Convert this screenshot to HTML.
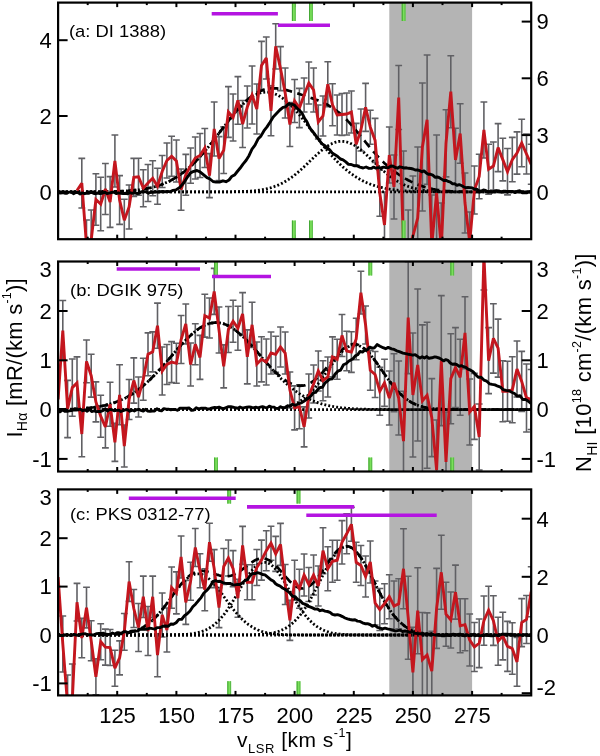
<!DOCTYPE html><html><head><meta charset="utf-8"><style>html,body{margin:0;padding:0;background:#fff;}svg{display:block;will-change:transform;}text{font-family:"Liberation Sans",sans-serif;fill:#000;}</style></head><body>
<svg width="600" height="756" viewBox="0 0 600 756">
<defs>
<clipPath id="cpa"><rect x="58.1" y="2.6" width="473.1" height="236.6"/></clipPath>
<clipPath id="cpb"><rect x="58.1" y="261.5" width="473.1" height="210.0"/></clipPath>
<clipPath id="cpc"><rect x="58.1" y="489.4" width="473.1" height="206.0"/></clipPath>
</defs>
<rect x="389.3" y="2.6" width="82.8" height="236.6" fill="#b4b4b4"/>
<g clip-path="url(#cpa)">
<path d="M81.8 158.4V208.0M78.4 158.4h6.8M78.4 208.0h6.8M86.5 220.0V270.0M83.1 220.0h6.8M83.1 270.0h6.8M91.2 210.0V270.0M87.8 210.0h6.8M87.8 270.0h6.8M95.9 173.7V225.3M92.5 173.7h6.8M92.5 225.3h6.8M100.7 177.3V230.7M97.3 177.3h6.8M97.3 230.7h6.8M105.4 163.5V214.5M102.0 163.5h6.8M102.0 214.5h6.8M110.1 176.6V227.4M106.7 176.6h6.8M106.7 227.4h6.8M114.9 135.0V187.0M111.5 135.0h6.8M111.5 187.0h6.8M119.6 175.6V224.4M116.2 175.6h6.8M116.2 224.4h6.8M124.3 199.2V241.2M120.9 199.2h6.8M120.9 241.2h6.8M129.1 185.0V229.0M125.7 185.0h6.8M125.7 229.0h6.8M133.8 158.4V196.4M130.4 158.4h6.8M130.4 196.4h6.8M138.5 158.3V195.3M135.1 158.3h6.8M135.1 195.3h6.8M143.3 169.7V206.7M139.9 169.7h6.8M139.9 206.7h6.8M148.0 164.5V201.5M144.6 164.5h6.8M144.6 201.5h6.8M152.7 160.8V195.8M149.3 160.8h6.8M149.3 195.8h6.8M157.5 168.2V204.2M154.1 168.2h6.8M154.1 204.2h6.8M162.2 155.5V187.5M158.8 155.5h6.8M158.8 187.5h6.8M166.9 143.0V178.0M163.5 143.0h6.8M163.5 178.0h6.8M171.6 136.3V176.3M168.2 136.3h6.8M168.2 176.3h6.8M176.4 140.0V182.0M173.0 140.0h6.8M173.0 182.0h6.8M181.1 169.0V210.2M177.7 169.0h6.8M177.7 210.2h6.8M185.8 154.4V195.2M182.4 154.4h6.8M182.4 195.2h6.8M190.6 148.0V183.2M187.2 148.0h6.8M187.2 183.2h6.8M195.3 137.0V179.0M191.9 137.0h6.8M191.9 179.0h6.8M200.0 133.5V177.5M196.6 133.5h6.8M196.6 177.5h6.8M204.8 128.5V167.5M201.4 128.5h6.8M201.4 167.5h6.8M209.5 153.6V197.6M206.1 153.6h6.8M206.1 197.6h6.8M214.2 102.0V156.0M210.8 102.0h6.8M210.8 156.0h6.8M219.0 136.6V180.6M215.6 136.6h6.8M215.6 180.6h6.8M223.7 126.9V173.5M220.3 126.9h6.8M220.3 173.5h6.8M228.4 86.6V137.4M225.0 86.6h6.8M225.0 137.4h6.8M233.1 94.0V141.0M229.7 94.0h6.8M229.7 141.0h6.8M237.9 76.6V124.2M234.5 76.6h6.8M234.5 124.2h6.8M242.6 100.5V147.5M239.2 100.5h6.8M239.2 147.5h6.8M247.3 86.0V128.0M243.9 86.0h6.8M243.9 128.0h6.8M252.1 66.0V124.0M248.7 66.0h6.8M248.7 124.0h6.8M256.8 84.0V134.0M253.4 84.0h6.8M253.4 134.0h6.8M261.5 41.4V89.4M258.1 41.4h6.8M258.1 89.4h6.8M266.3 37.0V79.0M262.9 37.0h6.8M262.9 79.0h6.8M271.0 85.8V135.8M267.6 85.8h6.8M267.6 135.8h6.8M275.7 23.8V69.0M272.3 23.8h6.8M272.3 69.0h6.8M280.5 46.6V90.6M277.1 46.6h6.8M277.1 90.6h6.8M285.2 68.0V118.0M281.8 68.0h6.8M281.8 118.0h6.8M289.9 102.5V146.5M286.5 102.5h6.8M286.5 146.5h6.8M294.6 79.5V122.5M291.2 79.5h6.8M291.2 122.5h6.8M299.4 88.4V127.6M296.0 88.4h6.8M296.0 127.6h6.8M304.1 78.0V112.0M300.7 78.0h6.8M300.7 112.0h6.8M308.8 62.0V104.0M305.4 62.0h6.8M305.4 104.0h6.8M313.6 68.0V112.0M310.2 68.0h6.8M310.2 112.0h6.8M318.3 105.0V139.0M314.9 105.0h6.8M314.9 139.0h6.8M323.0 96.0V136.0M319.6 96.0h6.8M319.6 136.0h6.8M327.8 61.7V106.7M324.4 61.7h6.8M324.4 106.7h6.8M332.5 83.8V125.8M329.1 83.8h6.8M329.1 125.8h6.8M337.2 95.0V135.0M333.8 95.0h6.8M333.8 135.0h6.8M342.0 93.5V135.5M338.6 93.5h6.8M338.6 135.5h6.8M346.7 93.0V135.0M343.3 93.0h6.8M343.3 135.0h6.8M351.4 91.0V133.0M348.0 91.0h6.8M348.0 133.0h6.8M356.2 123.4V165.4M352.8 123.4h6.8M352.8 165.4h6.8M360.9 109.0V151.0M357.5 109.0h6.8M357.5 151.0h6.8M365.6 83.4V131.4M362.2 83.4h6.8M362.2 131.4h6.8M370.3 110.2V144.2M366.9 110.2h6.8M366.9 144.2h6.8M375.1 118.4V162.4M371.7 118.4h6.8M371.7 162.4h6.8M379.8 170.3V216.3M376.4 170.3h6.8M376.4 216.3h6.8M384.5 192.0V258.0M381.1 192.0h6.8M381.1 258.0h6.8M389.3 127.0V183.0M385.9 127.0h6.8M385.9 183.0h6.8M394.0 155.0V219.0M390.6 155.0h6.8M390.6 219.0h6.8M398.7 65.5V129.5M395.3 65.5h6.8M395.3 129.5h6.8M403.5 151.0V339.0M400.1 151.0h6.8M400.1 339.0h6.8M408.2 210.0V290.0M404.8 210.0h6.8M404.8 290.0h6.8M412.9 176.0V296.0M409.5 176.0h6.8M409.5 296.0h6.8M417.7 147.0V289.0M414.3 147.0h6.8M414.3 289.0h6.8M422.4 83.0V211.0M419.0 83.0h6.8M419.0 211.0h6.8M427.1 55.0V184.4M423.7 55.0h6.8M423.7 184.4h6.8M431.8 195.0V295.0M428.4 195.0h6.8M428.4 295.0h6.8M436.6 135.0V251.0M433.2 135.0h6.8M433.2 251.0h6.8M441.3 203.0V293.0M437.9 203.0h6.8M437.9 293.0h6.8M446.0 109.7V176.9M442.6 109.7h6.8M442.6 176.9h6.8M450.8 55.7V127.7M447.4 55.7h6.8M447.4 127.7h6.8M455.5 128.3V191.7M452.1 128.3h6.8M452.1 191.7h6.8M460.2 103.7V163.3M456.8 103.7h6.8M456.8 163.3h6.8M465.0 173.0V233.0M461.6 173.0h6.8M461.6 233.0h6.8M469.7 212.0V272.0M466.3 212.0h6.8M466.3 272.0h6.8M474.4 166.0V214.0M471.0 166.0h6.8M471.0 214.0h6.8M479.2 154.2V198.8M475.8 154.2h6.8M475.8 198.8h6.8M483.9 102.0V158.0M480.5 102.0h6.8M480.5 158.0h6.8M488.6 144.3V194.3M485.2 144.3h6.8M485.2 194.3h6.8M493.4 142.0V190.0M490.0 142.0h6.8M490.0 190.0h6.8M498.1 123.6V171.6M494.7 123.6h6.8M494.7 171.6h6.8M502.8 138.3V180.9M499.4 138.3h6.8M499.4 180.9h6.8M507.5 148.5V194.9M504.1 148.5h6.8M504.1 194.9h6.8M512.3 137.4V181.8M508.9 137.4h6.8M508.9 181.8h6.8M517.0 131.9V174.1M513.6 131.9h6.8M513.6 174.1h6.8M521.7 119.3V166.7M518.3 119.3h6.8M518.3 166.7h6.8M526.5 134.0V174.0M523.1 134.0h6.8M523.1 174.0h6.8M531.2 144.3V184.3M527.8 144.3h6.8M527.8 184.3h6.8" stroke="#606064" stroke-width="1.6" fill="none"/>
<line x1="58.1" y1="191.9" x2="531.2" y2="191.9" stroke="#000" stroke-width="2.8" stroke-dasharray="1.9 2.1"/>
<polyline points="58.1,191.9 59.3,191.9 60.5,191.9 61.6,191.9 62.8,191.9 64.0,191.9 65.2,191.9 66.4,191.9 67.6,191.9 68.7,191.9 69.9,191.9 71.1,191.9 72.3,191.9 73.5,191.9 74.7,191.9 75.8,191.9 77.0,191.9 78.2,191.9 79.4,191.9 80.6,191.9 81.8,191.9 82.9,191.9 84.1,191.9 85.3,191.9 86.5,191.9 87.7,191.8 88.9,191.8 90.0,191.8 91.2,191.8 92.4,191.8 93.6,191.8 94.8,191.8 95.9,191.8 97.1,191.8 98.3,191.8 99.5,191.8 100.7,191.7 101.9,191.7 103.0,191.7 104.2,191.7 105.4,191.7 106.6,191.7 107.8,191.6 109.0,191.6 110.1,191.6 111.3,191.6 112.5,191.5 113.7,191.5 114.9,191.5 116.1,191.4 117.2,191.4 118.4,191.3 119.6,191.3 120.8,191.2 122.0,191.2 123.2,191.1 124.3,191.1 125.5,191.0 126.7,190.9 127.9,190.8 129.1,190.7 130.2,190.7 131.4,190.6 132.6,190.5 133.8,190.3 135.0,190.2 136.2,190.1 137.3,190.0 138.5,189.8 139.7,189.7 140.9,189.5 142.1,189.3 143.3,189.1 144.4,188.9 145.6,188.7 146.8,188.5 148.0,188.3 149.2,188.0 150.4,187.8 151.5,187.5 152.7,187.2 153.9,186.9 155.1,186.6 156.3,186.2 157.5,185.9 158.6,185.5 159.8,185.1 161.0,184.7 162.2,184.3 163.4,183.8 164.5,183.3 165.7,182.8 166.9,182.3 168.1,181.7 169.3,181.2 170.5,180.6 171.6,180.0 172.8,179.3 174.0,178.6 175.2,177.9 176.4,177.2 177.6,176.5 178.7,175.7 179.9,174.9 181.1,174.0 182.3,173.2 183.5,172.3 184.7,171.3 185.8,170.4 187.0,169.4 188.2,168.4 189.4,167.4 190.6,166.3 191.8,165.2 192.9,164.0 194.1,162.9 195.3,161.7 196.5,160.5 197.7,159.2 198.8,158.0 200.0,156.7 201.2,155.4 202.4,154.0 203.6,152.6 204.8,151.3 205.9,149.8 207.1,148.4 208.3,147.0 209.5,145.5 210.7,144.0 211.9,142.5 213.0,141.0 214.2,139.5 215.4,137.9 216.6,136.4 217.8,134.8 219.0,133.3 220.1,131.7 221.3,130.2 222.5,128.6 223.7,127.1 224.9,125.5 226.1,124.0 227.2,122.5 228.4,120.9 229.6,119.4 230.8,118.0 232.0,116.5 233.1,115.1 234.3,113.6 235.5,112.2 236.7,110.9 237.9,109.6 239.1,108.3 240.2,107.0 241.4,105.8 242.6,104.6 243.8,103.5 245.0,102.4 246.2,101.3 247.3,100.3 248.5,99.4 249.7,98.5 250.9,97.6 252.1,96.8 253.3,96.1 254.4,95.4 255.6,94.8 256.8,94.3 258.0,93.8 259.2,93.3 260.4,93.0 261.5,92.7 262.7,92.4 263.9,92.3 265.1,92.2 266.3,92.1 267.4,92.2 268.6,92.2 269.8,92.4 271.0,92.6 272.2,92.9 273.4,93.3 274.5,93.7 275.7,94.2 276.9,94.7 278.1,95.3 279.3,96.0 280.5,96.7 281.6,97.5 282.8,98.3 284.0,99.2 285.2,100.2 286.4,101.1 287.6,102.2 288.7,103.3 289.9,104.4 291.1,105.6 292.3,106.8 293.5,108.1 294.6,109.3 295.8,110.7 297.0,112.0 298.2,113.4 299.4,114.8 300.6,116.3 301.7,117.7 302.9,119.2 304.1,120.7 305.3,122.2 306.5,123.7 307.7,125.3 308.8,126.8 310.0,128.4 311.2,129.9 312.4,131.5 313.6,133.0 314.8,134.6 315.9,136.1 317.1,137.7 318.3,139.2 319.5,140.7 320.7,142.3 321.9,143.8 323.0,145.3 324.2,146.7 325.4,148.2 326.6,149.6 327.8,151.0 328.9,152.4 330.1,153.8 331.3,155.1 332.5,156.5 333.7,157.8 334.9,159.0 336.0,160.3 337.2,161.5 338.4,162.7 339.6,163.9 340.8,165.0 342.0,166.1 343.1,167.2 344.3,168.2 345.5,169.3 346.7,170.2 347.9,171.2 349.1,172.1 350.2,173.0 351.4,173.9 352.6,174.7 353.8,175.6 355.0,176.3 356.2,177.1 357.3,177.8 358.5,178.5 359.7,179.2 360.9,179.9 362.1,180.5 363.2,181.1 364.4,181.7 365.6,182.2 366.8,182.7 368.0,183.2 369.2,183.7 370.3,184.2 371.5,184.6 372.7,185.0 373.9,185.4 375.1,185.8 376.3,186.2 377.4,186.5 378.6,186.8 379.8,187.2 381.0,187.5 382.2,187.7 383.4,188.0 384.5,188.2 385.7,188.5 386.9,188.7 388.1,188.9 389.3,189.1 390.5,189.3 391.6,189.5 392.8,189.6 394.0,189.8 395.2,189.9 396.4,190.1 397.5,190.2 398.7,190.3 399.9,190.4 401.1,190.5 402.3,190.6 403.5,190.7 404.6,190.8 405.8,190.9 407.0,191.0 408.2,191.0 409.4,191.1 410.6,191.2 411.7,191.2 412.9,191.3 414.1,191.3 415.3,191.4 416.5,191.4 417.7,191.5 418.8,191.5 420.0,191.5 421.2,191.6 422.4,191.6 423.6,191.6 424.8,191.6 425.9,191.7 427.1,191.7 428.3,191.7 429.5,191.7 430.7,191.7 431.8,191.7 433.0,191.8 434.2,191.8 435.4,191.8 436.6,191.8 437.8,191.8 438.9,191.8 440.1,191.8 441.3,191.8 442.5,191.8 443.7,191.8 444.9,191.8 446.0,191.9 447.2,191.9 448.4,191.9 449.6,191.9 450.8,191.9 452.0,191.9 453.1,191.9 454.3,191.9 455.5,191.9 456.7,191.9 457.9,191.9 459.1,191.9 460.2,191.9 461.4,191.9 462.6,191.9 463.8,191.9 465.0,191.9 466.1,191.9 467.3,191.9 468.5,191.9 469.7,191.9 470.9,191.9 472.1,191.9 473.2,191.9 474.4,191.9 475.6,191.9 476.8,191.9 478.0,191.9 479.2,191.9 480.3,191.9 481.5,191.9 482.7,191.9 483.9,191.9 485.1,191.9 486.3,191.9 487.4,191.9 488.6,191.9 489.8,191.9 491.0,191.9 492.2,191.9 493.4,191.9 494.5,191.9 495.7,191.9 496.9,191.9 498.1,191.9 499.3,191.9 500.4,191.9 501.6,191.9 502.8,191.9 504.0,191.9 505.2,191.9 506.4,191.9 507.5,191.9 508.7,191.9 509.9,191.9 511.1,191.9 512.3,191.9 513.5,191.9 514.6,191.9 515.8,191.9 517.0,191.9 518.2,191.9 519.4,191.9 520.6,191.9 521.7,191.9 522.9,191.9 524.1,191.9 525.3,191.9 526.5,191.9 527.7,191.9 528.8,191.9 530.0,191.9 531.2,191.9" stroke="#000" stroke-width="2.8" fill="none" stroke-dasharray="1.9 2.1"/>
<polyline points="58.1,191.9 59.3,191.9 60.5,191.9 61.6,191.9 62.8,191.9 64.0,191.9 65.2,191.9 66.4,191.9 67.6,191.9 68.7,191.9 69.9,191.9 71.1,191.9 72.3,191.9 73.5,191.9 74.7,191.9 75.8,191.9 77.0,191.9 78.2,191.9 79.4,191.9 80.6,191.9 81.8,191.9 82.9,191.9 84.1,191.9 85.3,191.9 86.5,191.9 87.7,191.9 88.9,191.9 90.0,191.9 91.2,191.9 92.4,191.9 93.6,191.9 94.8,191.9 95.9,191.9 97.1,191.9 98.3,191.9 99.5,191.9 100.7,191.9 101.9,191.9 103.0,191.9 104.2,191.9 105.4,191.9 106.6,191.9 107.8,191.9 109.0,191.9 110.1,191.9 111.3,191.9 112.5,191.9 113.7,191.9 114.9,191.9 116.1,191.9 117.2,191.9 118.4,191.9 119.6,191.9 120.8,191.9 122.0,191.9 123.2,191.9 124.3,191.9 125.5,191.9 126.7,191.9 127.9,191.9 129.1,191.9 130.2,191.9 131.4,191.9 132.6,191.9 133.8,191.9 135.0,191.9 136.2,191.9 137.3,191.9 138.5,191.9 139.7,191.9 140.9,191.9 142.1,191.9 143.3,191.9 144.4,191.9 145.6,191.9 146.8,191.9 148.0,191.9 149.2,191.9 150.4,191.9 151.5,191.9 152.7,191.9 153.9,191.9 155.1,191.9 156.3,191.9 157.5,191.9 158.6,191.9 159.8,191.9 161.0,191.9 162.2,191.9 163.4,191.9 164.5,191.9 165.7,191.9 166.9,191.9 168.1,191.9 169.3,191.9 170.5,191.9 171.6,191.9 172.8,191.9 174.0,191.9 175.2,191.9 176.4,191.9 177.6,191.9 178.7,191.9 179.9,191.9 181.1,191.9 182.3,191.9 183.5,191.9 184.7,191.9 185.8,191.9 187.0,191.9 188.2,191.9 189.4,191.9 190.6,191.9 191.8,191.9 192.9,191.9 194.1,191.9 195.3,191.9 196.5,191.9 197.7,191.9 198.8,191.9 200.0,191.9 201.2,191.9 202.4,191.9 203.6,191.9 204.8,191.9 205.9,191.9 207.1,191.9 208.3,191.9 209.5,191.9 210.7,191.9 211.9,191.9 213.0,191.9 214.2,191.9 215.4,191.9 216.6,191.9 217.8,191.9 219.0,191.9 220.1,191.9 221.3,191.9 222.5,191.9 223.7,191.9 224.9,191.8 226.1,191.8 227.2,191.8 228.4,191.8 229.6,191.8 230.8,191.8 232.0,191.8 233.1,191.8 234.3,191.7 235.5,191.7 236.7,191.7 237.9,191.7 239.1,191.6 240.2,191.6 241.4,191.6 242.6,191.5 243.8,191.5 245.0,191.4 246.2,191.4 247.3,191.3 248.5,191.2 249.7,191.2 250.9,191.1 252.1,191.0 253.3,190.9 254.4,190.8 255.6,190.6 256.8,190.5 258.0,190.4 259.2,190.2 260.4,190.0 261.5,189.8 262.7,189.6 263.9,189.4 265.1,189.2 266.3,188.9 267.4,188.6 268.6,188.3 269.8,188.0 271.0,187.7 272.2,187.3 273.4,186.9 274.5,186.5 275.7,186.1 276.9,185.6 278.1,185.1 279.3,184.6 280.5,184.1 281.6,183.5 282.8,182.9 284.0,182.2 285.2,181.5 286.4,180.8 287.6,180.1 288.7,179.3 289.9,178.5 291.1,177.7 292.3,176.8 293.5,176.0 294.6,175.0 295.8,174.1 297.0,173.1 298.2,172.1 299.4,171.1 300.6,170.0 301.7,169.0 302.9,167.9 304.1,166.8 305.3,165.7 306.5,164.5 307.7,163.4 308.8,162.2 310.0,161.1 311.2,159.9 312.4,158.8 313.6,157.7 314.8,156.5 315.9,155.4 317.1,154.3 318.3,153.3 319.5,152.2 320.7,151.2 321.9,150.2 323.0,149.3 324.2,148.3 325.4,147.5 326.6,146.7 327.8,145.9 328.9,145.2 330.1,144.5 331.3,143.9 332.5,143.3 333.7,142.8 334.9,142.4 336.0,142.1 337.2,141.8 338.4,141.5 339.6,141.4 340.8,141.3 342.0,141.3 343.1,141.4 344.3,141.5 345.5,141.7 346.7,142.0 347.9,142.3 349.1,142.7 350.2,143.2 351.4,143.7 352.6,144.3 353.8,144.9 355.0,145.6 356.2,146.4 357.3,147.2 358.5,148.1 359.7,149.0 360.9,149.9 362.1,150.9 363.2,151.9 364.4,152.9 365.6,154.0 366.8,155.1 368.0,156.2 369.2,157.3 370.3,158.4 371.5,159.6 372.7,160.7 373.9,161.9 375.1,163.0 376.3,164.2 377.4,165.3 378.6,166.4 379.8,167.5 381.0,168.6 382.2,169.7 383.4,170.7 384.5,171.8 385.7,172.8 386.9,173.8 388.1,174.7 389.3,175.7 390.5,176.6 391.6,177.4 392.8,178.3 394.0,179.1 395.2,179.9 396.4,180.6 397.5,181.3 398.7,182.0 399.9,182.7 401.1,183.3 402.3,183.9 403.5,184.4 404.6,185.0 405.8,185.5 407.0,185.9 408.2,186.4 409.4,186.8 410.6,187.2 411.7,187.6 412.9,187.9 414.1,188.2 415.3,188.5 416.5,188.8 417.7,189.1 418.8,189.3 420.0,189.6 421.2,189.8 422.4,190.0 423.6,190.1 424.8,190.3 425.9,190.5 427.1,190.6 428.3,190.7 429.5,190.8 430.7,190.9 431.8,191.0 433.0,191.1 434.2,191.2 435.4,191.3 436.6,191.3 437.8,191.4 438.9,191.5 440.1,191.5 441.3,191.5 442.5,191.6 443.7,191.6 444.9,191.7 446.0,191.7 447.2,191.7 448.4,191.7 449.6,191.8 450.8,191.8 452.0,191.8 453.1,191.8 454.3,191.8 455.5,191.8 456.7,191.8 457.9,191.8 459.1,191.8 460.2,191.9 461.4,191.9 462.6,191.9 463.8,191.9 465.0,191.9 466.1,191.9 467.3,191.9 468.5,191.9 469.7,191.9 470.9,191.9 472.1,191.9 473.2,191.9 474.4,191.9 475.6,191.9 476.8,191.9 478.0,191.9 479.2,191.9 480.3,191.9 481.5,191.9 482.7,191.9 483.9,191.9 485.1,191.9 486.3,191.9 487.4,191.9 488.6,191.9 489.8,191.9 491.0,191.9 492.2,191.9 493.4,191.9 494.5,191.9 495.7,191.9 496.9,191.9 498.1,191.9 499.3,191.9 500.4,191.9 501.6,191.9 502.8,191.9 504.0,191.9 505.2,191.9 506.4,191.9 507.5,191.9 508.7,191.9 509.9,191.9 511.1,191.9 512.3,191.9 513.5,191.9 514.6,191.9 515.8,191.9 517.0,191.9 518.2,191.9 519.4,191.9 520.6,191.9 521.7,191.9 522.9,191.9 524.1,191.9 525.3,191.9 526.5,191.9 527.7,191.9 528.8,191.9 530.0,191.9 531.2,191.9" stroke="#000" stroke-width="2.8" fill="none" stroke-dasharray="1.9 2.1"/>
<polyline points="58.1,191.9 59.3,191.9 60.5,191.9 61.6,191.9 62.8,191.9 64.0,191.9 65.2,191.9 66.4,191.9 67.6,191.9 68.7,191.9 69.9,191.9 71.1,191.9 72.3,191.9 73.5,191.9 74.7,191.9 75.8,191.9 77.0,191.9 78.2,191.9 79.4,191.9 80.6,191.9 81.8,191.9 82.9,191.9 84.1,191.9 85.3,191.9 86.5,191.9 87.7,191.8 88.9,191.8 90.0,191.8 91.2,191.8 92.4,191.8 93.6,191.8 94.8,191.8 95.9,191.8 97.1,191.8 98.3,191.8 99.5,191.8 100.7,191.7 101.9,191.7 103.0,191.7 104.2,191.7 105.4,191.7 106.6,191.7 107.8,191.6 109.0,191.6 110.1,191.6 111.3,191.6 112.5,191.5 113.7,191.5 114.9,191.5 116.1,191.4 117.2,191.4 118.4,191.3 119.6,191.3 120.8,191.2 122.0,191.2 123.2,191.1 124.3,191.1 125.5,191.0 126.7,190.9 127.9,190.8 129.1,190.7 130.2,190.7 131.4,190.6 132.6,190.5 133.8,190.3 135.0,190.2 136.2,190.1 137.3,190.0 138.5,189.8 139.7,189.7 140.9,189.5 142.1,189.3 143.3,189.1 144.4,188.9 145.6,188.7 146.8,188.5 148.0,188.3 149.2,188.0 150.4,187.8 151.5,187.5 152.7,187.2 153.9,186.9 155.1,186.6 156.3,186.2 157.5,185.9 158.6,185.5 159.8,185.1 161.0,184.7 162.2,184.3 163.4,183.8 164.5,183.3 165.7,182.8 166.9,182.3 168.1,181.7 169.3,181.2 170.5,180.6 171.6,180.0 172.8,179.3 174.0,178.6 175.2,177.9 176.4,177.2 177.6,176.5 178.7,175.7 179.9,174.9 181.1,174.0 182.3,173.2 183.5,172.3 184.7,171.3 185.8,170.4 187.0,169.4 188.2,168.4 189.4,167.4 190.6,166.3 191.8,165.2 192.9,164.0 194.1,162.9 195.3,161.7 196.5,160.5 197.7,159.2 198.8,158.0 200.0,156.7 201.2,155.4 202.4,154.0 203.6,152.6 204.8,151.3 205.9,149.8 207.1,148.4 208.3,147.0 209.5,145.5 210.7,144.0 211.9,142.5 213.0,141.0 214.2,139.5 215.4,137.9 216.6,136.4 217.8,134.8 219.0,133.3 220.1,131.7 221.3,130.1 222.5,128.6 223.7,127.0 224.9,125.5 226.1,123.9 227.2,122.4 228.4,120.9 229.6,119.3 230.8,117.8 232.0,116.4 233.1,114.9 234.3,113.5 235.5,112.1 236.7,110.7 237.9,109.3 239.1,108.0 240.2,106.7 241.4,105.4 242.6,104.2 243.8,103.0 245.0,101.9 246.2,100.8 247.3,99.7 248.5,98.7 249.7,97.7 250.9,96.8 252.1,95.9 253.3,95.1 254.4,94.3 255.6,93.5 256.8,92.9 258.0,92.2 259.2,91.6 260.4,91.1 261.5,90.6 262.7,90.2 263.9,89.8 265.1,89.4 266.3,89.1 267.4,88.9 268.6,88.7 269.8,88.5 271.0,88.4 272.2,88.3 273.4,88.3 274.5,88.3 275.7,88.4 276.9,88.4 278.1,88.6 279.3,88.7 280.5,88.9 281.6,89.1 282.8,89.3 284.0,89.5 285.2,89.8 286.4,90.1 287.6,90.4 288.7,90.7 289.9,91.0 291.1,91.4 292.3,91.7 293.5,92.1 294.6,92.5 295.8,92.9 297.0,93.2 298.2,93.6 299.4,94.0 300.6,94.4 301.7,94.8 302.9,95.2 304.1,95.6 305.3,96.0 306.5,96.4 307.7,96.8 308.8,97.2 310.0,97.6 311.2,98.0 312.4,98.4 313.6,98.8 314.8,99.2 315.9,99.7 317.1,100.1 318.3,100.6 319.5,101.1 320.7,101.5 321.9,102.1 323.0,102.6 324.2,103.1 325.4,103.7 326.6,104.3 327.8,105.0 328.9,105.6 330.1,106.3 331.3,107.0 332.5,107.8 333.7,108.6 334.9,109.4 336.0,110.3 337.2,111.2 338.4,112.2 339.6,113.1 340.8,114.2 342.0,115.2 343.1,116.3 344.3,117.5 345.5,118.6 346.7,119.8 347.9,121.1 349.1,122.3 350.2,123.6 351.4,125.0 352.6,126.3 353.8,127.7 355.0,129.1 356.2,130.5 357.3,132.0 358.5,133.4 359.7,134.9 360.9,136.3 362.1,137.8 363.2,139.3 364.4,140.7 365.6,142.2 366.8,143.6 368.0,145.1 369.2,146.5 370.3,147.9 371.5,149.3 372.7,150.7 373.9,152.1 375.1,153.4 376.3,154.7 377.4,156.0 378.6,157.3 379.8,158.5 381.0,159.8 382.2,160.9 383.4,162.1 384.5,163.2 385.7,164.3 386.9,165.4 388.1,166.4 389.3,167.4 390.5,168.4 391.6,169.4 392.8,170.3 394.0,171.2 395.2,172.1 396.4,172.9 397.5,173.7 398.7,174.5 399.9,175.3 401.1,176.1 402.3,176.8 403.5,177.5 404.6,178.2 405.8,178.9 407.0,179.5 408.2,180.2 409.4,180.8 410.6,181.4 411.7,181.9 412.9,182.5 414.1,183.0 415.3,183.5 416.5,184.0 417.7,184.5 418.8,185.0 420.0,185.4 421.2,185.8 422.4,186.2 423.6,186.6 424.8,187.0 425.9,187.3 427.1,187.7 428.3,188.0 429.5,188.3 430.7,188.6 431.8,188.8 433.0,189.1 434.2,189.3 435.4,189.6 436.6,189.8 437.8,190.0 438.9,190.1 440.1,190.3 441.3,190.5 442.5,190.6 443.7,190.7 444.9,190.8 446.0,191.0 447.2,191.1 448.4,191.1 449.6,191.2 450.8,191.3 452.0,191.4 453.1,191.4 454.3,191.5 455.5,191.5 456.7,191.6 457.9,191.6 459.1,191.7 460.2,191.7 461.4,191.7 462.6,191.7 463.8,191.8 465.0,191.8 466.1,191.8 467.3,191.8 468.5,191.8 469.7,191.8 470.9,191.8 472.1,191.9 473.2,191.9 474.4,191.9 475.6,191.9 476.8,191.9 478.0,191.9 479.2,191.9 480.3,191.9 481.5,191.9 482.7,191.9 483.9,191.9 485.1,191.9 486.3,191.9 487.4,191.9 488.6,191.9 489.8,191.9 491.0,191.9 492.2,191.9 493.4,191.9 494.5,191.9 495.7,191.9 496.9,191.9 498.1,191.9 499.3,191.9 500.4,191.9 501.6,191.9 502.8,191.9 504.0,191.9 505.2,191.9 506.4,191.9 507.5,191.9 508.7,191.9 509.9,191.9 511.1,191.9 512.3,191.9 513.5,191.9 514.6,191.9 515.8,191.9 517.0,191.9 518.2,191.9 519.4,191.9 520.6,191.9 521.7,191.9 522.9,191.9 524.1,191.9 525.3,191.9 526.5,191.9 527.7,191.9 528.8,191.9 530.0,191.9 531.2,191.9" stroke="#000" stroke-width="2.7" fill="none" stroke-dasharray="8.5 5.5"/>
<polyline points="77.0,190.5 81.8,183.2 86.5,245.0 91.2,240.0 95.9,199.5 100.7,204.0 105.4,189.0 110.1,202.0 114.9,161.0 119.6,200.0 124.3,220.2 129.1,207.0 133.8,177.4 138.5,176.8 143.3,188.2 148.0,183.0 152.7,178.3 157.5,186.2 162.2,171.5 166.9,160.5 171.6,156.3 176.4,161.0 181.1,189.6 185.8,174.8 190.6,165.6 195.3,158.0 200.0,155.5 204.8,148.0 209.5,175.6 214.2,129.0 219.0,158.6 223.7,150.2 228.4,112.0 233.1,117.5 237.9,100.4 242.6,124.0 247.3,107.0 252.1,95.0 256.8,109.0 261.5,65.4 266.3,58.0 271.0,110.8 275.7,46.4 280.5,68.6 285.2,93.0 289.9,124.5 294.6,101.0 299.4,108.0 304.1,95.0 308.8,83.0 313.6,90.0 318.3,122.0 323.0,116.0 327.8,84.2 332.5,104.8 337.2,115.0 342.0,114.5 346.7,114.0 351.4,112.0 356.2,144.4 360.9,130.0 365.6,107.4 370.3,127.2 375.1,140.4 379.8,193.3 384.5,225.0 389.3,155.0 394.0,187.0 398.7,97.5 403.5,245.0 408.2,250.0 412.9,236.0 417.7,218.0 422.4,147.0 427.1,119.7 431.8,245.0 436.6,193.0 441.3,248.0 446.0,143.3 450.8,91.7 455.5,160.0 460.2,133.5 465.0,203.0 469.7,242.0 474.4,190.0 479.2,176.5 483.9,130.0 488.6,169.3 493.4,166.0 498.1,147.6 502.8,159.6 507.5,171.7 512.3,159.6 517.0,153.0 521.7,143.0 526.5,154.0 531.2,164.3" stroke="#c4161e" stroke-width="2.9" fill="none" stroke-linejoin="miter" stroke-miterlimit="3"/>
<polyline points="58.1,192.5 60.3,193.1 62.5,192.7 64.7,193.2 66.9,193.3 69.1,192.1 71.3,192.0 73.5,193.7 75.7,192.5 77.9,192.5 80.2,194.0 82.4,192.9 84.6,193.7 86.8,193.0 89.0,193.3 91.2,192.3 93.4,193.3 95.6,193.7 97.8,193.0 100.0,193.5 102.3,193.3 104.6,192.1 106.9,193.5 109.2,193.1 111.5,192.5 113.8,192.0 116.2,193.6 118.5,192.8 120.8,193.3 123.1,193.6 125.4,193.3 127.7,193.7 130.0,192.6 132.3,193.3 134.6,192.6 136.9,193.5 139.2,193.3 141.5,191.7 143.8,191.7 146.2,191.8 148.5,193.2 150.8,192.1 153.1,192.4 155.4,191.7 157.7,192.1 160.0,191.8 162.5,191.5 165.0,191.7 167.5,191.4 170.0,191.8 173.0,190.4 176.0,189.9 180.0,187.2 184.0,182.5 188.0,176.3 190.5,172.8 193.0,171.7 197.0,170.5 200.0,171.8 204.0,175.1 207.0,177.7 210.0,179.0 213.0,181.5 216.0,182.1 220.0,182.0 223.0,180.8 226.0,181.7 229.0,180.0 232.0,176.2 234.7,174.9 237.3,171.5 240.0,168.3 243.0,164.1 246.0,160.5 249.0,155.7 252.0,149.1 255.0,145.2 258.0,139.1 261.0,135.9 264.0,130.7 267.0,126.9 270.0,122.2 273.2,116.9 276.5,113.5 279.8,110.0 283.0,107.4 285.6,106.8 288.3,104.1 291.7,104.2 294.0,104.8 298.2,109.5 300.0,110.8 302.4,113.8 304.7,118.6 306.7,121.3 308.9,126.2 311.1,129.7 313.3,132.3 316.1,136.0 318.9,139.7 321.7,143.6 324.2,145.2 327.1,147.6 330.0,150.2 332.5,153.3 335.0,154.8 337.7,156.5 340.4,159.0 343.1,159.9 345.8,161.9 348.5,164.4 351.2,164.5 354.0,165.7 356.7,165.7 359.9,167.1 363.2,168.0 366.1,167.0 369.0,168.4 371.3,168.4 373.6,167.1 376.0,168.2 378.3,167.7 380.8,168.0 383.4,167.2 385.9,167.7 388.5,167.6 391.0,166.0 393.2,166.2 395.4,167.5 397.6,168.2 399.8,166.8 402.0,167.3 404.2,168.0 406.4,167.8 408.6,168.3 410.8,168.5 413.0,169.0 415.2,170.0 417.4,169.9 419.6,170.6 421.8,171.8 424.0,170.9 426.2,172.9 428.4,174.2 430.6,174.3 432.8,175.1 435.0,177.2 437.2,177.0 439.4,177.7 441.6,179.1 443.8,180.5 446.0,180.2 448.2,181.4 450.4,182.1 452.6,183.9 454.8,183.8 457.0,185.4 459.2,184.6 461.4,185.5 463.6,186.7 465.8,187.8 468.0,187.5 470.2,187.6 472.4,187.9 474.6,189.2 476.8,189.1 479.0,190.8 481.2,191.1 483.4,190.0 485.6,190.4 487.8,191.7 490.0,191.6 492.3,192.0 494.6,191.1 496.9,190.7 499.2,191.0 501.4,192.1 503.7,191.1 506.0,191.3 508.3,191.4 510.6,191.5 512.9,191.5 515.2,192.6 517.5,191.1 519.8,190.8 522.0,192.7 524.3,192.6 526.6,192.9 528.9,191.8 531.2,192.0" stroke="#000" stroke-width="2.9" fill="none" stroke-linejoin="round"/>
</g>
<rect x="389.3" y="261.5" width="82.8" height="210.0" fill="#b4b4b4"/>
<g clip-path="url(#cpb)">
<path d="M62.8 300.5V360.5M59.4 300.5h6.8M59.4 360.5h6.8M67.6 380.4V437.6M64.2 380.4h6.8M64.2 437.6h6.8M72.3 359.0V416.2M68.9 359.0h6.8M68.9 416.2h6.8M77.0 356.9V408.9M73.6 356.9h6.8M73.6 408.9h6.8M81.8 411.3V456.7M78.4 411.3h6.8M78.4 456.7h6.8M86.5 340.0V382.8M83.1 340.0h6.8M83.1 382.8h6.8M91.2 354.3V397.1M87.8 354.3h6.8M87.8 397.1h6.8M95.9 381.9V421.9M92.5 381.9h6.8M92.5 421.9h6.8M100.7 395.2V437.2M97.3 395.2h6.8M97.3 437.2h6.8M105.4 405.9V447.9M102.0 405.9h6.8M102.0 447.9h6.8M110.1 382.3V426.3M106.7 382.3h6.8M106.7 426.3h6.8M114.9 423.4V461.4M111.5 423.4h6.8M111.5 461.4h6.8M119.6 364.8V424.8M116.2 364.8h6.8M116.2 424.8h6.8M124.3 425.0V467.0M120.9 425.0h6.8M120.9 467.0h6.8M129.1 379.5V419.5M125.7 379.5h6.8M125.7 419.5h6.8M133.8 357.9V403.1M130.4 357.9h6.8M130.4 403.1h6.8M138.5 377.0V417.0M135.1 377.0h6.8M135.1 417.0h6.8M143.3 358.3V400.3M139.9 358.3h6.8M139.9 400.3h6.8M148.0 332.9V375.7M144.6 332.9h6.8M144.6 375.7h6.8M152.7 331.9V371.9M149.3 331.9h6.8M149.3 371.9h6.8M157.5 303.1V348.3M154.1 303.1h6.8M154.1 348.3h6.8M162.2 347.0V395.0M158.8 347.0h6.8M158.8 395.0h6.8M166.9 344.5V384.5M163.5 344.5h6.8M163.5 384.5h6.8M171.6 341.6V382.6M168.2 341.6h6.8M168.2 382.6h6.8M176.4 343.3V383.3M173.0 343.3h6.8M173.0 383.3h6.8M181.1 315.5V363.5M177.7 315.5h6.8M177.7 363.5h6.8M185.8 304.0V344.0M182.4 304.0h6.8M182.4 344.0h6.8M190.6 343.0V386.0M187.2 343.0h6.8M187.2 386.0h6.8M195.3 323.8V364.8M191.9 323.8h6.8M191.9 364.8h6.8M200.0 335.4V379.4M196.6 335.4h6.8M196.6 379.4h6.8M204.8 294.3V337.1M201.4 294.3h6.8M201.4 337.1h6.8M209.5 298.0V338.0M206.1 298.0h6.8M206.1 338.0h6.8M214.2 268.4V314.4M210.8 268.4h6.8M210.8 314.4h6.8M219.0 307.0V353.0M215.6 307.0h6.8M215.6 353.0h6.8M223.7 344.9V387.9M220.3 344.9h6.8M220.3 387.9h6.8M228.4 306.5V352.5M225.0 306.5h6.8M225.0 352.5h6.8M233.1 300.2V342.2M229.7 300.2h6.8M229.7 342.2h6.8M237.9 306.3V350.3M234.5 306.3h6.8M234.5 350.3h6.8M242.6 292.6V335.4M239.2 292.6h6.8M239.2 335.4h6.8M247.3 329.9V383.9M243.9 329.9h6.8M243.9 383.9h6.8M252.1 302.2V347.4M248.7 302.2h6.8M248.7 347.4h6.8M256.8 342.0V386.0M253.4 342.0h6.8M253.4 386.0h6.8M261.5 336.7V381.9M258.1 336.7h6.8M258.1 381.9h6.8M266.3 339.0V385.0M262.9 339.0h6.8M262.9 385.0h6.8M271.0 332.0V374.0M267.6 332.0h6.8M267.6 374.0h6.8M275.7 336.3V372.3M272.3 336.3h6.8M272.3 372.3h6.8M280.5 327.0V367.0M277.1 327.0h6.8M277.1 367.0h6.8M285.2 332.0V374.0M281.8 332.0h6.8M281.8 374.0h6.8M289.9 372.0V408.0M286.5 372.0h6.8M286.5 408.0h6.8M294.6 385.9V429.9M291.2 385.9h6.8M291.2 429.9h6.8M299.4 384.7V428.7M296.0 384.7h6.8M296.0 428.7h6.8M304.1 406.9V446.9M300.7 406.9h6.8M300.7 446.9h6.8M308.8 374.0V418.0M305.4 374.0h6.8M305.4 418.0h6.8M313.6 365.0V403.0M310.2 365.0h6.8M310.2 403.0h6.8M318.3 351.0V391.0M314.9 351.0h6.8M314.9 391.0h6.8M323.0 360.7V400.7M319.6 360.7h6.8M319.6 400.7h6.8M327.8 357.0V397.0M324.4 357.0h6.8M324.4 397.0h6.8M332.5 336.9V376.9M329.1 336.9h6.8M329.1 376.9h6.8M337.2 339.3V379.3M333.8 339.3h6.8M333.8 379.3h6.8M342.0 314.5V356.5M338.6 314.5h6.8M338.6 356.5h6.8M346.7 331.3V370.7M343.3 331.3h6.8M343.3 370.7h6.8M351.4 331.8V372.4M348.0 331.8h6.8M348.0 372.4h6.8M356.2 318.2V359.8M352.8 318.2h6.8M352.8 359.8h6.8M360.9 271.2V314.0M357.5 271.2h6.8M357.5 314.0h6.8M365.6 306.0V344.0M362.2 306.0h6.8M362.2 344.0h6.8M370.3 350.3V390.3M366.9 350.3h6.8M366.9 390.3h6.8M375.1 351.5V397.5M371.7 351.5h6.8M371.7 397.5h6.8M379.8 367.2V415.2M376.4 367.2h6.8M376.4 415.2h6.8M384.5 359.2V406.4M381.1 359.2h6.8M381.1 406.4h6.8M389.3 371.0V425.0M385.9 371.0h6.8M385.9 425.0h6.8M394.0 353.8V411.8M390.6 353.8h6.8M390.6 411.8h6.8M398.7 361.0V435.0M395.3 361.0h6.8M395.3 435.0h6.8M403.5 391.2V491.2M400.1 391.2h6.8M400.1 491.2h6.8M408.2 261.6V373.6M404.8 261.6h6.8M404.8 373.6h6.8M412.9 333.0V457.0M409.5 333.0h6.8M409.5 457.0h6.8M417.7 289.0V441.0M414.3 289.0h6.8M414.3 441.0h6.8M422.4 324.9V476.9M419.0 324.9h6.8M419.0 476.9h6.8M427.1 322.3V468.3M423.7 322.3h6.8M423.7 468.3h6.8M431.8 378.6V456.6M428.4 378.6h6.8M428.4 456.6h6.8M436.6 420.0V520.0M433.2 420.0h6.8M433.2 520.0h6.8M441.3 295.6V425.6M437.9 295.6h6.8M437.9 425.6h6.8M446.0 412.0V512.0M442.6 412.0h6.8M442.6 512.0h6.8M450.8 333.7V423.7M447.4 333.7h6.8M447.4 423.7h6.8M455.5 327.6V407.6M452.1 327.6h6.8M452.1 407.6h6.8M460.2 339.3V415.3M456.8 339.3h6.8M456.8 415.3h6.8M465.0 296.8V368.8M461.6 296.8h6.8M461.6 368.8h6.8M469.7 379.0V445.0M466.3 379.0h6.8M466.3 445.0h6.8M474.4 373.4V439.4M471.0 373.4h6.8M471.0 439.4h6.8M479.2 404.0V470.0M475.8 404.0h6.8M475.8 470.0h6.8M483.9 220.0V290.0M480.5 220.0h6.8M480.5 290.0h6.8M488.6 327.6V393.6M485.2 327.6h6.8M485.2 393.6h6.8M493.4 303.7V373.1M490.0 303.7h6.8M490.0 373.1h6.8M498.1 319.1V377.1M494.7 319.1h6.8M494.7 377.1h6.8M502.8 360.7V421.7M499.4 360.7h6.8M499.4 421.7h6.8M507.5 361.2V421.2M504.1 361.2h6.8M504.1 421.2h6.8M512.3 356.8V422.8M508.9 356.8h6.8M508.9 422.8h6.8M517.0 341.0V397.0M513.6 341.0h6.8M513.6 397.0h6.8M521.7 351.4V411.4M518.3 351.4h6.8M518.3 411.4h6.8M526.5 364.0V432.0M523.1 364.0h6.8M523.1 432.0h6.8M531.2 369.5V429.5M527.8 369.5h6.8M527.8 429.5h6.8" stroke="#606064" stroke-width="1.6" fill="none"/>
<line x1="58.1" y1="409.6" x2="531.2" y2="409.6" stroke="#000" stroke-width="2.8" stroke-dasharray="1.9 2.1"/>
<polyline points="58.1,409.4 59.3,409.4 60.5,409.4 61.6,409.3 62.8,409.3 64.0,409.3 65.2,409.3 66.4,409.2 67.6,409.2 68.7,409.2 69.9,409.1 71.1,409.1 72.3,409.0 73.5,409.0 74.7,408.9 75.8,408.9 77.0,408.8 78.2,408.8 79.4,408.7 80.6,408.6 81.8,408.5 82.9,408.5 84.1,408.4 85.3,408.3 86.5,408.2 87.7,408.0 88.9,407.9 90.0,407.8 91.2,407.7 92.4,407.5 93.6,407.4 94.8,407.2 95.9,407.0 97.1,406.9 98.3,406.7 99.5,406.4 100.7,406.2 101.9,406.0 103.0,405.8 104.2,405.5 105.4,405.2 106.6,404.9 107.8,404.6 109.0,404.3 110.1,404.0 111.3,403.6 112.5,403.3 113.7,402.9 114.9,402.5 116.1,402.0 117.2,401.6 118.4,401.1 119.6,400.6 120.8,400.1 122.0,399.6 123.2,399.0 124.3,398.5 125.5,397.9 126.7,397.2 127.9,396.6 129.1,395.9 130.2,395.2 131.4,394.5 132.6,393.7 133.8,392.9 135.0,392.1 136.2,391.3 137.3,390.4 138.5,389.6 139.7,388.6 140.9,387.7 142.1,386.7 143.3,385.8 144.4,384.7 145.6,383.7 146.8,382.6 148.0,381.5 149.2,380.4 150.4,379.3 151.5,378.1 152.7,376.9 153.9,375.7 155.1,374.5 156.3,373.3 157.5,372.0 158.6,370.7 159.8,369.4 161.0,368.1 162.2,366.8 163.4,365.4 164.5,364.1 165.7,362.7 166.9,361.4 168.1,360.0 169.3,358.6 170.5,357.2 171.6,355.9 172.8,354.5 174.0,353.1 175.2,351.7 176.4,350.4 177.6,349.0 178.7,347.7 179.9,346.4 181.1,345.0 182.3,343.7 183.5,342.5 184.7,341.2 185.8,340.0 187.0,338.8 188.2,337.6 189.4,336.5 190.6,335.4 191.8,334.3 192.9,333.3 194.1,332.3 195.3,331.3 196.5,330.4 197.7,329.5 198.8,328.7 200.0,327.9 201.2,327.2 202.4,326.5 203.6,325.9 204.8,325.3 205.9,324.8 207.1,324.3 208.3,323.9 209.5,323.5 210.7,323.2 211.9,323.0 213.0,322.8 214.2,322.7 215.4,322.6 216.6,322.6 217.8,322.7 219.0,322.8 220.1,323.0 221.3,323.2 222.5,323.5 223.7,323.8 224.9,324.3 226.1,324.7 227.2,325.2 228.4,325.8 229.6,326.4 230.8,327.1 232.0,327.8 233.1,328.6 234.3,329.4 235.5,330.3 236.7,331.2 237.9,332.2 239.1,333.2 240.2,334.2 241.4,335.3 242.6,336.4 243.8,337.5 245.0,338.7 246.2,339.9 247.3,341.1 248.5,342.4 249.7,343.6 250.9,344.9 252.1,346.2 253.3,347.6 254.4,348.9 255.6,350.3 256.8,351.6 258.0,353.0 259.2,354.4 260.4,355.7 261.5,357.1 262.7,358.5 263.9,359.9 265.1,361.3 266.3,362.6 267.4,364.0 268.6,365.3 269.8,366.7 271.0,368.0 272.2,369.3 273.4,370.6 274.5,371.9 275.7,373.2 276.9,374.4 278.1,375.6 279.3,376.8 280.5,378.0 281.6,379.2 282.8,380.3 284.0,381.5 285.2,382.5 286.4,383.6 287.6,384.7 288.7,385.7 289.9,386.7 291.1,387.6 292.3,388.6 293.5,389.5 294.6,390.4 295.8,391.2 297.0,392.1 298.2,392.9 299.4,393.7 300.6,394.4 301.7,395.1 302.9,395.8 304.1,396.5 305.3,397.2 306.5,397.8 307.7,398.4 308.8,399.0 310.0,399.5 311.2,400.1 312.4,400.6 313.6,401.1 314.8,401.6 315.9,402.0 317.1,402.4 318.3,402.8 319.5,403.2 320.7,403.6 321.9,404.0 323.0,404.3 324.2,404.6 325.4,404.9 326.6,405.2 327.8,405.5 328.9,405.7 330.1,406.0 331.3,406.2 332.5,406.4 333.7,406.6 334.9,406.8 336.0,407.0 337.2,407.2 338.4,407.4 339.6,407.5 340.8,407.7 342.0,407.8 343.1,407.9 344.3,408.0 345.5,408.2 346.7,408.3 347.9,408.4 349.1,408.4 350.2,408.5 351.4,408.6 352.6,408.7 353.8,408.8 355.0,408.8 356.2,408.9 357.3,408.9 358.5,409.0 359.7,409.0 360.9,409.1 362.1,409.1 363.2,409.2 364.4,409.2 365.6,409.2 366.8,409.3 368.0,409.3 369.2,409.3 370.3,409.3 371.5,409.4 372.7,409.4 373.9,409.4 375.1,409.4 376.3,409.4 377.4,409.5 378.6,409.5 379.8,409.5 381.0,409.5 382.2,409.5 383.4,409.5 384.5,409.5 385.7,409.5 386.9,409.5 388.1,409.5 389.3,409.5 390.5,409.5 391.6,409.6 392.8,409.6 394.0,409.6 395.2,409.6 396.4,409.6 397.5,409.6 398.7,409.6 399.9,409.6 401.1,409.6 402.3,409.6 403.5,409.6 404.6,409.6 405.8,409.6 407.0,409.6 408.2,409.6 409.4,409.6 410.6,409.6 411.7,409.6 412.9,409.6 414.1,409.6 415.3,409.6 416.5,409.6 417.7,409.6 418.8,409.6 420.0,409.6 421.2,409.6 422.4,409.6 423.6,409.6 424.8,409.6 425.9,409.6 427.1,409.6 428.3,409.6 429.5,409.6 430.7,409.6 431.8,409.6 433.0,409.6 434.2,409.6 435.4,409.6 436.6,409.6 437.8,409.6 438.9,409.6 440.1,409.6 441.3,409.6 442.5,409.6 443.7,409.6 444.9,409.6 446.0,409.6 447.2,409.6 448.4,409.6 449.6,409.6 450.8,409.6 452.0,409.6 453.1,409.6 454.3,409.6 455.5,409.6 456.7,409.6 457.9,409.6 459.1,409.6 460.2,409.6 461.4,409.6 462.6,409.6 463.8,409.6 465.0,409.6 466.1,409.6 467.3,409.6 468.5,409.6 469.7,409.6 470.9,409.6 472.1,409.6 473.2,409.6 474.4,409.6 475.6,409.6 476.8,409.6 478.0,409.6 479.2,409.6 480.3,409.6 481.5,409.6 482.7,409.6 483.9,409.6 485.1,409.6 486.3,409.6 487.4,409.6 488.6,409.6 489.8,409.6 491.0,409.6 492.2,409.6 493.4,409.6 494.5,409.6 495.7,409.6 496.9,409.6 498.1,409.6 499.3,409.6 500.4,409.6 501.6,409.6 502.8,409.6 504.0,409.6 505.2,409.6 506.4,409.6 507.5,409.6 508.7,409.6 509.9,409.6 511.1,409.6 512.3,409.6 513.5,409.6 514.6,409.6 515.8,409.6 517.0,409.6 518.2,409.6 519.4,409.6 520.6,409.6 521.7,409.6 522.9,409.6 524.1,409.6 525.3,409.6 526.5,409.6 527.7,409.6 528.8,409.6 530.0,409.6 531.2,409.6" stroke="#000" stroke-width="2.8" fill="none" stroke-dasharray="1.9 2.1"/>
<polyline points="58.1,409.6 59.3,409.6 60.5,409.6 61.6,409.6 62.8,409.6 64.0,409.6 65.2,409.6 66.4,409.6 67.6,409.6 68.7,409.6 69.9,409.6 71.1,409.6 72.3,409.6 73.5,409.6 74.7,409.6 75.8,409.6 77.0,409.6 78.2,409.6 79.4,409.6 80.6,409.6 81.8,409.6 82.9,409.6 84.1,409.6 85.3,409.6 86.5,409.6 87.7,409.6 88.9,409.6 90.0,409.6 91.2,409.6 92.4,409.6 93.6,409.6 94.8,409.6 95.9,409.6 97.1,409.6 98.3,409.6 99.5,409.6 100.7,409.6 101.9,409.6 103.0,409.6 104.2,409.6 105.4,409.6 106.6,409.6 107.8,409.6 109.0,409.6 110.1,409.6 111.3,409.6 112.5,409.6 113.7,409.6 114.9,409.6 116.1,409.6 117.2,409.6 118.4,409.6 119.6,409.6 120.8,409.6 122.0,409.6 123.2,409.6 124.3,409.6 125.5,409.6 126.7,409.6 127.9,409.6 129.1,409.6 130.2,409.6 131.4,409.6 132.6,409.6 133.8,409.6 135.0,409.6 136.2,409.6 137.3,409.6 138.5,409.6 139.7,409.6 140.9,409.6 142.1,409.6 143.3,409.6 144.4,409.6 145.6,409.6 146.8,409.6 148.0,409.6 149.2,409.6 150.4,409.6 151.5,409.6 152.7,409.6 153.9,409.6 155.1,409.6 156.3,409.6 157.5,409.6 158.6,409.6 159.8,409.6 161.0,409.6 162.2,409.6 163.4,409.6 164.5,409.6 165.7,409.6 166.9,409.6 168.1,409.6 169.3,409.6 170.5,409.6 171.6,409.6 172.8,409.6 174.0,409.6 175.2,409.6 176.4,409.6 177.6,409.6 178.7,409.6 179.9,409.6 181.1,409.6 182.3,409.6 183.5,409.6 184.7,409.6 185.8,409.6 187.0,409.6 188.2,409.6 189.4,409.6 190.6,409.6 191.8,409.6 192.9,409.6 194.1,409.6 195.3,409.6 196.5,409.6 197.7,409.6 198.8,409.6 200.0,409.6 201.2,409.6 202.4,409.6 203.6,409.6 204.8,409.6 205.9,409.6 207.1,409.6 208.3,409.6 209.5,409.6 210.7,409.6 211.9,409.6 213.0,409.6 214.2,409.6 215.4,409.6 216.6,409.6 217.8,409.6 219.0,409.6 220.1,409.6 221.3,409.6 222.5,409.6 223.7,409.6 224.9,409.6 226.1,409.6 227.2,409.6 228.4,409.6 229.6,409.6 230.8,409.6 232.0,409.6 233.1,409.6 234.3,409.6 235.5,409.6 236.7,409.6 237.9,409.6 239.1,409.6 240.2,409.6 241.4,409.6 242.6,409.6 243.8,409.6 245.0,409.6 246.2,409.6 247.3,409.6 248.5,409.6 249.7,409.6 250.9,409.6 252.1,409.6 253.3,409.5 254.4,409.5 255.6,409.5 256.8,409.5 258.0,409.5 259.2,409.5 260.4,409.5 261.5,409.4 262.7,409.4 263.9,409.4 265.1,409.3 266.3,409.3 267.4,409.2 268.6,409.2 269.8,409.1 271.0,409.1 272.2,409.0 273.4,408.9 274.5,408.8 275.7,408.7 276.9,408.6 278.1,408.4 279.3,408.3 280.5,408.1 281.6,407.9 282.8,407.7 284.0,407.5 285.2,407.2 286.4,407.0 287.6,406.7 288.7,406.3 289.9,406.0 291.1,405.6 292.3,405.1 293.5,404.7 294.6,404.2 295.8,403.6 297.0,403.0 298.2,402.4 299.4,401.7 300.6,401.0 301.7,400.2 302.9,399.3 304.1,398.4 305.3,397.5 306.5,396.5 307.7,395.5 308.8,394.4 310.0,393.2 311.2,392.0 312.4,390.7 313.6,389.4 314.8,388.0 315.9,386.6 317.1,385.1 318.3,383.6 319.5,382.1 320.7,380.5 321.9,378.8 323.0,377.2 324.2,375.5 325.4,373.8 326.6,372.1 327.8,370.4 328.9,368.7 330.1,367.0 331.3,365.3 332.5,363.6 333.7,362.0 334.9,360.4 336.0,358.8 337.2,357.3 338.4,355.8 339.6,354.4 340.8,353.1 342.0,351.9 343.1,350.7 344.3,349.6 345.5,348.7 346.7,347.8 347.9,347.0 349.1,346.4 350.2,345.9 351.4,345.4 352.6,345.2 353.8,345.0 355.0,344.9 356.2,345.0 357.3,345.2 358.5,345.5 359.7,346.0 360.9,346.5 362.1,347.2 363.2,348.0 364.4,348.9 365.6,349.9 366.8,351.0 368.0,352.1 369.2,353.4 370.3,354.7 371.5,356.2 372.7,357.6 373.9,359.2 375.1,360.7 376.3,362.4 377.4,364.0 378.6,365.7 379.8,367.4 381.0,369.1 382.2,370.8 383.4,372.5 384.5,374.2 385.7,375.9 386.9,377.6 388.1,379.2 389.3,380.9 390.5,382.4 391.6,384.0 392.8,385.5 394.0,386.9 395.2,388.4 396.4,389.7 397.5,391.0 398.7,392.3 399.9,393.5 401.1,394.6 402.3,395.7 403.5,396.8 404.6,397.7 405.8,398.7 407.0,399.5 408.2,400.4 409.4,401.1 410.6,401.9 411.7,402.5 412.9,403.2 414.1,403.7 415.3,404.3 416.5,404.8 417.7,405.2 418.8,405.7 420.0,406.1 421.2,406.4 422.4,406.7 423.6,407.0 424.8,407.3 425.9,407.6 427.1,407.8 428.3,408.0 429.5,408.2 430.7,408.3 431.8,408.5 433.0,408.6 434.2,408.7 435.4,408.8 436.6,408.9 437.8,409.0 438.9,409.1 440.1,409.2 441.3,409.2 442.5,409.3 443.7,409.3 444.9,409.3 446.0,409.4 447.2,409.4 448.4,409.4 449.6,409.5 450.8,409.5 452.0,409.5 453.1,409.5 454.3,409.5 455.5,409.5 456.7,409.5 457.9,409.6 459.1,409.6 460.2,409.6 461.4,409.6 462.6,409.6 463.8,409.6 465.0,409.6 466.1,409.6 467.3,409.6 468.5,409.6 469.7,409.6 470.9,409.6 472.1,409.6 473.2,409.6 474.4,409.6 475.6,409.6 476.8,409.6 478.0,409.6 479.2,409.6 480.3,409.6 481.5,409.6 482.7,409.6 483.9,409.6 485.1,409.6 486.3,409.6 487.4,409.6 488.6,409.6 489.8,409.6 491.0,409.6 492.2,409.6 493.4,409.6 494.5,409.6 495.7,409.6 496.9,409.6 498.1,409.6 499.3,409.6 500.4,409.6 501.6,409.6 502.8,409.6 504.0,409.6 505.2,409.6 506.4,409.6 507.5,409.6 508.7,409.6 509.9,409.6 511.1,409.6 512.3,409.6 513.5,409.6 514.6,409.6 515.8,409.6 517.0,409.6 518.2,409.6 519.4,409.6 520.6,409.6 521.7,409.6 522.9,409.6 524.1,409.6 525.3,409.6 526.5,409.6 527.7,409.6 528.8,409.6 530.0,409.6 531.2,409.6" stroke="#000" stroke-width="2.8" fill="none" stroke-dasharray="1.9 2.1"/>
<polyline points="58.1,409.4 59.3,409.4 60.5,409.4 61.6,409.3 62.8,409.3 64.0,409.3 65.2,409.3 66.4,409.2 67.6,409.2 68.7,409.2 69.9,409.1 71.1,409.1 72.3,409.0 73.5,409.0 74.7,408.9 75.8,408.9 77.0,408.8 78.2,408.8 79.4,408.7 80.6,408.6 81.8,408.5 82.9,408.5 84.1,408.4 85.3,408.3 86.5,408.2 87.7,408.0 88.9,407.9 90.0,407.8 91.2,407.7 92.4,407.5 93.6,407.4 94.8,407.2 95.9,407.0 97.1,406.9 98.3,406.7 99.5,406.4 100.7,406.2 101.9,406.0 103.0,405.8 104.2,405.5 105.4,405.2 106.6,404.9 107.8,404.6 109.0,404.3 110.1,404.0 111.3,403.6 112.5,403.3 113.7,402.9 114.9,402.5 116.1,402.0 117.2,401.6 118.4,401.1 119.6,400.6 120.8,400.1 122.0,399.6 123.2,399.0 124.3,398.5 125.5,397.9 126.7,397.2 127.9,396.6 129.1,395.9 130.2,395.2 131.4,394.5 132.6,393.7 133.8,392.9 135.0,392.1 136.2,391.3 137.3,390.4 138.5,389.6 139.7,388.6 140.9,387.7 142.1,386.7 143.3,385.8 144.4,384.7 145.6,383.7 146.8,382.6 148.0,381.5 149.2,380.4 150.4,379.3 151.5,378.1 152.7,376.9 153.9,375.7 155.1,374.5 156.3,373.3 157.5,372.0 158.6,370.7 159.8,369.4 161.0,368.1 162.2,366.8 163.4,365.4 164.5,364.1 165.7,362.7 166.9,361.4 168.1,360.0 169.3,358.6 170.5,357.2 171.6,355.9 172.8,354.5 174.0,353.1 175.2,351.7 176.4,350.4 177.6,349.0 178.7,347.7 179.9,346.4 181.1,345.0 182.3,343.7 183.5,342.5 184.7,341.2 185.8,340.0 187.0,338.8 188.2,337.6 189.4,336.5 190.6,335.4 191.8,334.3 192.9,333.3 194.1,332.3 195.3,331.3 196.5,330.4 197.7,329.5 198.8,328.7 200.0,327.9 201.2,327.2 202.4,326.5 203.6,325.9 204.8,325.3 205.9,324.8 207.1,324.3 208.3,323.9 209.5,323.5 210.7,323.2 211.9,323.0 213.0,322.8 214.2,322.7 215.4,322.6 216.6,322.6 217.8,322.7 219.0,322.8 220.1,323.0 221.3,323.2 222.5,323.5 223.7,323.8 224.9,324.3 226.1,324.7 227.2,325.2 228.4,325.8 229.6,326.4 230.8,327.1 232.0,327.8 233.1,328.6 234.3,329.4 235.5,330.3 236.7,331.2 237.9,332.2 239.1,333.2 240.2,334.2 241.4,335.3 242.6,336.4 243.8,337.5 245.0,338.7 246.2,339.9 247.3,341.1 248.5,342.3 249.7,343.6 250.9,344.9 252.1,346.2 253.3,347.5 254.4,348.8 255.6,350.2 256.8,351.5 258.0,352.9 259.2,354.2 260.4,355.6 261.5,357.0 262.7,358.3 263.9,359.7 265.1,361.0 266.3,362.3 267.4,363.6 268.6,364.9 269.8,366.2 271.0,367.5 272.2,368.7 273.4,369.9 274.5,371.1 275.7,372.3 276.9,373.4 278.1,374.5 279.3,375.5 280.5,376.6 281.6,377.5 282.8,378.5 284.0,379.4 285.2,380.2 286.4,381.0 287.6,381.7 288.7,382.4 289.9,383.0 291.1,383.6 292.3,384.1 293.5,384.5 294.6,384.9 295.8,385.2 297.0,385.5 298.2,385.6 299.4,385.7 300.6,385.8 301.7,385.7 302.9,385.6 304.1,385.4 305.3,385.1 306.5,384.7 307.7,384.3 308.8,383.7 310.0,383.1 311.2,382.5 312.4,381.7 313.6,380.9 314.8,380.0 315.9,379.0 317.1,378.0 318.3,376.8 319.5,375.7 320.7,374.5 321.9,373.2 323.0,371.9 324.2,370.5 325.4,369.1 326.6,367.7 327.8,366.3 328.9,364.8 330.1,363.4 331.3,361.9 332.5,360.4 333.7,359.0 334.9,357.6 336.0,356.2 337.2,354.9 338.4,353.6 339.6,352.3 340.8,351.1 342.0,350.0 343.1,349.0 344.3,348.1 345.5,347.2 346.7,346.4 347.9,345.8 349.1,345.2 350.2,344.8 351.4,344.5 352.6,344.2 353.8,344.1 355.0,344.2 356.2,344.3 357.3,344.5 358.5,344.9 359.7,345.4 360.9,346.0 362.1,346.7 363.2,347.6 364.4,348.5 365.6,349.5 366.8,350.6 368.0,351.8 369.2,353.1 370.3,354.5 371.5,355.9 372.7,357.4 373.9,359.0 375.1,360.6 376.3,362.2 377.4,363.9 378.6,365.5 379.8,367.3 381.0,369.0 382.2,370.7 383.4,372.4 384.5,374.1 385.7,375.8 386.9,377.5 388.1,379.2 389.3,380.8 390.5,382.4 391.6,383.9 392.8,385.4 394.0,386.9 395.2,388.3 396.4,389.7 397.5,391.0 398.7,392.3 399.9,393.5 401.1,394.6 402.3,395.7 403.5,396.7 404.6,397.7 405.8,398.7 407.0,399.5 408.2,400.4 409.4,401.1 410.6,401.8 411.7,402.5 412.9,403.2 414.1,403.7 415.3,404.3 416.5,404.8 417.7,405.2 418.8,405.7 420.0,406.1 421.2,406.4 422.4,406.7 423.6,407.0 424.8,407.3 425.9,407.6 427.1,407.8 428.3,408.0 429.5,408.2 430.7,408.3 431.8,408.5 433.0,408.6 434.2,408.7 435.4,408.8 436.6,408.9 437.8,409.0 438.9,409.1 440.1,409.2 441.3,409.2 442.5,409.3 443.7,409.3 444.9,409.3 446.0,409.4 447.2,409.4 448.4,409.4 449.6,409.5 450.8,409.5 452.0,409.5 453.1,409.5 454.3,409.5 455.5,409.5 456.7,409.5 457.9,409.6 459.1,409.6 460.2,409.6 461.4,409.6 462.6,409.6 463.8,409.6 465.0,409.6 466.1,409.6 467.3,409.6 468.5,409.6 469.7,409.6 470.9,409.6 472.1,409.6 473.2,409.6 474.4,409.6 475.6,409.6 476.8,409.6 478.0,409.6 479.2,409.6 480.3,409.6 481.5,409.6 482.7,409.6 483.9,409.6 485.1,409.6 486.3,409.6 487.4,409.6 488.6,409.6 489.8,409.6 491.0,409.6 492.2,409.6 493.4,409.6 494.5,409.6 495.7,409.6 496.9,409.6 498.1,409.6 499.3,409.6 500.4,409.6 501.6,409.6 502.8,409.6 504.0,409.6 505.2,409.6 506.4,409.6 507.5,409.6 508.7,409.6 509.9,409.6 511.1,409.6 512.3,409.6 513.5,409.6 514.6,409.6 515.8,409.6 517.0,409.6 518.2,409.6 519.4,409.6 520.6,409.6 521.7,409.6 522.9,409.6 524.1,409.6 525.3,409.6 526.5,409.6 527.7,409.6 528.8,409.6 530.0,409.6 531.2,409.6" stroke="#000" stroke-width="2.7" fill="none" stroke-dasharray="8.5 5.5"/>
<polyline points="58.1,399.5 62.8,330.5 67.6,409.0 72.3,387.6 77.0,382.9 81.8,434.0 86.5,361.4 91.2,375.7 95.9,401.9 100.7,416.2 105.4,426.9 110.1,404.3 114.9,442.4 119.6,394.8 124.3,446.0 129.1,399.5 133.8,380.5 138.5,397.0 143.3,379.3 148.0,354.3 152.7,351.9 157.5,325.7 162.2,371.0 166.9,364.5 171.6,362.1 176.4,363.3 181.1,339.5 185.8,324.0 190.6,364.5 195.3,344.3 200.0,357.4 204.8,315.7 209.5,318.0 214.2,291.4 219.0,330.0 223.7,366.4 228.4,329.5 233.1,321.2 237.9,328.3 242.6,314.0 247.3,356.9 252.1,324.8 256.8,364.0 261.5,359.3 266.3,362.0 271.0,353.0 275.7,354.3 280.5,347.0 285.2,353.0 289.9,390.0 294.6,407.9 299.4,406.7 304.1,426.9 308.8,396.0 313.6,384.0 318.3,371.0 323.0,380.7 327.8,377.0 332.5,356.9 337.2,359.3 342.0,335.5 346.7,351.0 351.4,352.1 356.2,339.0 360.9,292.6 365.6,325.0 370.3,370.3 375.1,374.5 379.8,391.2 384.5,382.8 389.3,398.0 394.0,382.8 398.7,398.0 403.5,441.2 408.2,317.6 412.9,395.0 417.7,365.0 422.4,400.9 427.1,395.3 431.8,417.6 436.6,470.0 441.3,360.6 446.0,462.0 450.8,378.7 455.5,367.6 460.2,377.3 465.0,332.8 469.7,412.0 474.4,406.4 479.2,437.0 483.9,255.0 488.6,360.6 493.4,338.4 498.1,348.1 502.8,391.2 507.5,391.2 512.3,389.8 517.0,369.0 521.7,381.4 526.5,398.0 531.2,399.5" stroke="#c4161e" stroke-width="2.9" fill="none" stroke-linejoin="miter" stroke-miterlimit="3"/>
<polyline points="58.1,411.8 60.3,411.7 62.6,409.7 64.8,411.2 67.1,411.4 69.3,410.9 71.5,410.5 73.8,409.9 76.0,410.0 78.3,409.7 80.5,409.2 82.8,410.7 85.0,409.8 87.2,411.3 89.5,409.1 91.7,411.5 94.0,410.9 96.2,411.6 98.4,411.5 100.7,411.5 102.9,410.6 105.2,409.0 107.4,411.0 109.7,409.4 111.9,409.8 114.1,410.8 116.4,410.4 118.6,410.1 120.9,411.5 123.1,410.6 125.3,409.8 127.6,409.6 129.8,411.3 132.1,410.2 134.3,411.0 136.6,409.8 138.8,409.4 141.0,410.3 143.3,411.1 145.5,409.3 147.8,411.0 150.0,411.4 152.3,411.0 154.6,411.0 156.9,408.7 159.2,410.3 161.5,410.9 163.8,408.6 166.2,409.2 168.5,409.1 170.8,409.8 173.1,409.4 175.4,409.5 177.7,410.3 180.0,408.1 182.3,408.2 184.6,408.3 186.9,408.2 189.2,408.0 191.5,410.4 193.8,410.0 196.2,407.8 198.5,408.9 200.8,408.3 203.1,408.2 205.4,408.2 207.7,409.0 210.0,408.7 212.3,408.0 214.6,407.5 216.9,407.7 219.2,407.1 221.5,408.2 223.8,408.6 226.2,407.5 228.5,406.6 230.8,406.8 233.1,407.2 235.4,407.8 237.7,408.2 240.0,407.0 242.3,408.1 244.5,407.6 246.8,407.1 249.0,406.9 251.3,407.3 253.5,407.9 255.8,407.1 258.0,407.8 260.3,407.2 262.5,406.6 264.8,407.4 267.0,407.8 269.3,406.1 271.5,407.1 273.8,407.1 276.0,408.4 278.3,408.5 280.6,406.7 282.9,408.0 285.1,407.5 287.4,405.8 289.7,406.2 292.5,404.3 295.4,405.3 298.2,404.0 301.0,403.0 303.9,401.2 306.7,399.3 309.0,397.8 311.2,395.7 313.5,392.7 315.7,392.4 318.0,389.1 320.3,387.5 322.5,387.3 324.8,383.2 327.0,381.4 329.3,379.4 332.1,378.9 335.0,374.3 337.8,371.2 340.6,370.1 343.5,364.8 346.3,363.5 348.6,361.3 350.8,360.0 353.1,358.7 355.3,355.9 357.6,354.8 360.1,351.4 362.5,352.1 365.0,350.0 367.4,349.7 369.8,347.1 372.2,348.1 374.6,347.7 377.1,344.6 380.1,346.2 383.1,347.7 385.6,348.7 388.2,347.4 391.6,348.8 394.2,349.4 396.7,350.8 399.3,351.6 403.0,353.1 405.5,353.6 407.9,354.2 410.4,354.6 412.8,355.2 415.2,354.7 417.6,356.4 420.0,358.1 422.2,356.8 424.5,358.0 426.8,356.6 429.0,358.3 431.9,357.8 434.7,356.9 436.9,357.3 439.1,358.0 441.4,359.3 443.6,360.9 445.8,359.6 448.0,360.3 450.2,363.0 452.5,364.3 454.7,364.0 456.9,364.6 459.1,366.3 461.3,365.6 463.6,366.7 465.8,367.3 468.0,369.2 470.6,370.2 473.1,371.7 475.7,374.7 478.3,377.2 481.1,377.2 483.9,380.1 486.7,381.2 489.5,383.8 492.2,384.4 495.0,384.9 497.8,386.2 500.5,387.1 503.3,389.7 506.1,390.4 508.9,390.7 511.7,392.2 514.5,393.5 517.2,396.1 520.0,395.7 522.8,399.5 525.5,399.4 528.3,401.2 531.2,403.7" stroke="#000" stroke-width="2.9" fill="none" stroke-linejoin="round"/>
</g>
<rect x="389.3" y="489.4" width="82.8" height="206.0" fill="#b4b4b4"/>
<g clip-path="url(#cpc)">
<path d="M62.8 616.0V672.0M59.4 616.0h6.8M59.4 672.0h6.8M67.6 675.0V735.0M64.2 675.0h6.8M64.2 735.0h6.8M72.3 664.0V736.0M68.9 664.0h6.8M68.9 736.0h6.8M77.0 583.4V621.0M73.6 583.4h6.8M73.6 621.0h6.8M81.8 618.4V657.8M78.4 618.4h6.8M78.4 657.8h6.8M86.5 587.3V627.9M83.1 587.3h6.8M83.1 627.9h6.8M91.2 620.8V660.8M87.8 620.8h6.8M87.8 660.8h6.8M95.9 658.8V694.8M92.5 658.8h6.8M92.5 694.8h6.8M100.7 623.7V659.7M97.3 623.7h6.8M97.3 659.7h6.8M105.4 629.1V665.1M102.0 629.1h6.8M102.0 665.1h6.8M110.1 629.5V665.5M106.7 629.5h6.8M106.7 665.5h6.8M114.9 650.2V686.2M111.5 650.2h6.8M111.5 686.2h6.8M119.6 640.9V674.9M116.2 640.9h6.8M116.2 674.9h6.8M124.3 613.5V650.3M120.9 613.5h6.8M120.9 650.3h6.8M129.1 561.8V601.4M125.7 561.8h6.8M125.7 601.4h6.8M133.8 589.5V627.5M130.4 589.5h6.8M130.4 627.5h6.8M138.5 603.5V651.5M135.1 603.5h6.8M135.1 651.5h6.8M143.3 576.1V617.5M139.9 576.1h6.8M139.9 617.5h6.8M148.0 606.5V655.5M144.6 606.5h6.8M144.6 655.5h6.8M152.7 576.1V617.5M149.3 576.1h6.8M149.3 617.5h6.8M157.5 633.7V676.7M154.1 633.7h6.8M154.1 676.7h6.8M162.2 593.0V637.0M158.8 593.0h6.8M158.8 637.0h6.8M166.9 608.0V652.0M163.5 608.0h6.8M163.5 652.0h6.8M171.6 567.0V608.2M168.2 567.0h6.8M168.2 608.2h6.8M176.4 571.9V613.9M173.0 571.9h6.8M173.0 613.9h6.8M181.1 536.0V578.0M177.7 536.0h6.8M177.7 578.0h6.8M185.8 580.4V624.4M182.4 580.4h6.8M182.4 624.4h6.8M190.6 562.3V600.3M187.2 562.3h6.8M187.2 600.3h6.8M195.3 528.5V566.5M191.9 528.5h6.8M191.9 566.5h6.8M200.0 553.7V587.7M196.6 553.7h6.8M196.6 587.7h6.8M204.8 568.7V610.7M201.4 568.7h6.8M201.4 610.7h6.8M209.5 523.2V561.2M206.1 523.2h6.8M206.1 561.2h6.8M214.2 549.6V587.6M210.8 549.6h6.8M210.8 587.6h6.8M219.0 587.6V627.6M215.6 587.6h6.8M215.6 627.6h6.8M223.7 548.5V584.5M220.3 548.5h6.8M220.3 584.5h6.8M228.4 540.0V576.0M225.0 540.0h6.8M225.0 576.0h6.8M233.1 550.6V586.6M229.7 550.6h6.8M229.7 586.6h6.8M237.9 579.2V617.2M234.5 579.2h6.8M234.5 617.2h6.8M242.6 526.4V564.4M239.2 526.4h6.8M239.2 564.4h6.8M247.3 564.8V599.8M243.9 564.8h6.8M243.9 599.8h6.8M252.1 564.8V599.8M248.7 564.8h6.8M248.7 599.8h6.8M256.8 549.5V585.5M253.4 549.5h6.8M253.4 585.5h6.8M261.5 540.1V580.1M258.1 540.1h6.8M258.1 580.1h6.8M266.3 530.7V570.7M262.9 530.7h6.8M262.9 570.7h6.8M271.0 526.2V560.2M267.6 526.2h6.8M267.6 560.2h6.8M275.7 536.4V571.4M272.3 536.4h6.8M272.3 571.4h6.8M280.5 523.4V565.4M277.1 523.4h6.8M277.1 565.4h6.8M285.2 564.5V604.5M281.8 564.5h6.8M281.8 604.5h6.8M289.9 600.4V640.4M286.5 600.4h6.8M286.5 640.4h6.8M294.6 560.3V600.3M291.2 560.3h6.8M291.2 600.3h6.8M299.4 569.2V608.2M296.0 569.2h6.8M296.0 608.2h6.8M304.1 554.0V596.0M300.7 554.0h6.8M300.7 596.0h6.8M308.8 567.5V601.5M305.4 567.5h6.8M305.4 601.5h6.8M313.6 555.0V595.0M310.2 555.0h6.8M310.2 595.0h6.8M318.3 566.0V606.0M314.9 566.0h6.8M314.9 606.0h6.8M323.0 527.7V573.7M319.6 527.7h6.8M319.6 573.7h6.8M327.8 546.7V590.7M324.4 546.7h6.8M324.4 590.7h6.8M332.5 540.3V582.3M329.1 540.3h6.8M329.1 582.3h6.8M337.2 540.2V580.2M333.8 540.2h6.8M333.8 580.2h6.8M342.0 520.6V564.0M338.6 520.6h6.8M338.6 564.0h6.8M346.7 513.8V553.8M343.3 513.8h6.8M343.3 553.8h6.8M351.4 507.3V541.3M348.0 507.3h6.8M348.0 541.3h6.8M356.2 542.3V582.3M352.8 542.3h6.8M352.8 582.3h6.8M360.9 545.5V585.5M357.5 545.5h6.8M357.5 585.5h6.8M365.6 556.0V597.0M362.2 556.0h6.8M362.2 597.0h6.8M370.3 541.0V583.0M366.9 541.0h6.8M366.9 583.0h6.8M375.1 581.0V625.0M371.7 581.0h6.8M371.7 625.0h6.8M379.8 588.5V630.5M376.4 588.5h6.8M376.4 630.5h6.8M384.5 583.7V623.7M381.1 583.7h6.8M381.1 623.7h6.8M389.3 574.7V618.7M385.9 574.7h6.8M385.9 618.7h6.8M394.0 581.0V631.0M390.6 581.0h6.8M390.6 631.0h6.8M398.7 578.7V628.7M395.3 578.7h6.8M395.3 628.7h6.8M403.5 528.8V608.8M400.1 528.8h6.8M400.1 608.8h6.8M408.2 576.2V659.2M404.8 576.2h6.8M404.8 659.2h6.8M412.9 627.3V717.3M409.5 627.3h6.8M409.5 717.3h6.8M417.7 567.7V653.7M414.3 567.7h6.8M414.3 653.7h6.8M422.4 612.5V706.5M419.0 612.5h6.8M419.0 706.5h6.8M427.1 612.9V696.9M423.7 612.9h6.8M423.7 696.9h6.8M431.8 631.2V711.2M428.4 631.2h6.8M428.4 711.2h6.8M436.6 568.4V648.4M433.2 568.4h6.8M433.2 648.4h6.8M441.3 535.3V609.3M437.9 535.3h6.8M437.9 609.3h6.8M446.0 582.2V646.2M442.6 582.2h6.8M442.6 646.2h6.8M450.8 592.0V648.0M447.4 592.0h6.8M447.4 648.0h6.8M455.5 565.1V619.1M452.1 565.1h6.8M452.1 619.1h6.8M460.2 598.8V652.8M456.8 598.8h6.8M456.8 652.8h6.8M465.0 598.7V650.7M461.6 598.7h6.8M461.6 650.7h6.8M469.7 614.0V666.0M466.3 614.0h6.8M466.3 666.0h6.8M474.4 622.5V671.5M471.0 622.5h6.8M471.0 671.5h6.8M479.2 619.0V667.6M475.8 619.0h6.8M475.8 667.6h6.8M483.9 596.0V645.2M480.5 596.0h6.8M480.5 645.2h6.8M488.6 586.2V634.2M485.2 586.2h6.8M485.2 634.2h6.8M493.4 595.8V645.4M490.0 595.8h6.8M490.0 645.4h6.8M498.1 617.2V665.2M494.7 617.2h6.8M494.7 665.2h6.8M502.8 612.3V659.9M499.4 612.3h6.8M499.4 659.9h6.8M507.5 621.4V671.4M504.1 621.4h6.8M504.1 671.4h6.8M512.3 622.7V674.3M508.9 622.7h6.8M508.9 674.3h6.8M517.0 637.5V686.3M513.6 637.5h6.8M513.6 686.3h6.8M521.7 598.6V646.6M518.3 598.6h6.8M518.3 646.6h6.8M526.5 595.5V643.5M523.1 595.5h6.8M523.1 643.5h6.8M531.2 566.7V616.7M527.8 566.7h6.8M527.8 616.7h6.8" stroke="#606064" stroke-width="1.6" fill="none"/>
<line x1="58.1" y1="635.0" x2="531.2" y2="635.0" stroke="#000" stroke-width="2.8" stroke-dasharray="1.9 2.1"/>
<polyline points="58.1,635.0 59.3,635.0 60.5,635.0 61.6,635.0 62.8,635.0 64.0,635.0 65.2,635.0 66.4,635.0 67.6,635.0 68.7,635.0 69.9,635.0 71.1,635.0 72.3,635.0 73.5,635.0 74.7,635.0 75.8,635.0 77.0,635.0 78.2,635.0 79.4,635.0 80.6,635.0 81.8,635.0 82.9,635.0 84.1,635.0 85.3,635.0 86.5,635.0 87.7,635.0 88.9,635.0 90.0,635.0 91.2,635.0 92.4,635.0 93.6,635.0 94.8,635.0 95.9,635.0 97.1,634.9 98.3,634.9 99.5,634.9 100.7,634.9 101.9,634.9 103.0,634.9 104.2,634.9 105.4,634.8 106.6,634.8 107.8,634.8 109.0,634.7 110.1,634.7 111.3,634.7 112.5,634.6 113.7,634.5 114.9,634.5 116.1,634.4 117.2,634.3 118.4,634.2 119.6,634.1 120.8,634.0 122.0,633.9 123.2,633.7 124.3,633.5 125.5,633.4 126.7,633.2 127.9,632.9 129.1,632.7 130.2,632.4 131.4,632.1 132.6,631.8 133.8,631.4 135.0,631.0 136.2,630.6 137.3,630.1 138.5,629.6 139.7,629.1 140.9,628.5 142.1,627.9 143.3,627.2 144.4,626.5 145.6,625.7 146.8,624.9 148.0,624.0 149.2,623.1 150.4,622.1 151.5,621.1 152.7,620.0 153.9,618.9 155.1,617.7 156.3,616.5 157.5,615.2 158.6,613.9 159.8,612.5 161.0,611.1 162.2,609.6 163.4,608.1 164.5,606.6 165.7,605.0 166.9,603.4 168.1,601.8 169.3,600.2 170.5,598.6 171.6,596.9 172.8,595.3 174.0,593.7 175.2,592.1 176.4,590.5 177.6,589.0 178.7,587.4 179.9,586.0 181.1,584.6 182.3,583.2 183.5,581.9 184.7,580.7 185.8,579.6 187.0,578.5 188.2,577.6 189.4,576.7 190.6,576.0 191.8,575.3 192.9,574.8 194.1,574.4 195.3,574.0 196.5,573.8 197.7,573.8 198.8,573.8 200.0,574.0 201.2,574.2 202.4,574.6 203.6,575.1 204.8,575.7 205.9,576.4 207.1,577.3 208.3,578.2 209.5,579.2 210.7,580.3 211.9,581.5 213.0,582.8 214.2,584.1 215.4,585.5 216.6,586.9 217.8,588.4 219.0,589.9 220.1,591.5 221.3,593.1 222.5,594.7 223.7,596.3 224.9,598.0 226.1,599.6 227.2,601.2 228.4,602.9 229.6,604.4 230.8,606.0 232.0,607.6 233.1,609.1 234.3,610.6 235.5,612.0 236.7,613.4 237.9,614.7 239.1,616.0 240.2,617.3 241.4,618.5 242.6,619.6 243.8,620.7 245.0,621.8 246.2,622.8 247.3,623.7 248.5,624.6 249.7,625.4 250.9,626.2 252.1,627.0 253.3,627.6 254.4,628.3 255.6,628.9 256.8,629.4 258.0,630.0 259.2,630.4 260.4,630.9 261.5,631.3 262.7,631.6 263.9,632.0 265.1,632.3 266.3,632.6 267.4,632.8 268.6,633.1 269.8,633.3 271.0,633.5 272.2,633.7 273.4,633.8 274.5,633.9 275.7,634.1 276.9,634.2 278.1,634.3 279.3,634.4 280.5,634.5 281.6,634.5 282.8,634.6 284.0,634.6 285.2,634.7 286.4,634.7 287.6,634.8 288.7,634.8 289.9,634.8 291.1,634.8 292.3,634.9 293.5,634.9 294.6,634.9 295.8,634.9 297.0,634.9 298.2,634.9 299.4,635.0 300.6,635.0 301.7,635.0 302.9,635.0 304.1,635.0 305.3,635.0 306.5,635.0 307.7,635.0 308.8,635.0 310.0,635.0 311.2,635.0 312.4,635.0 313.6,635.0 314.8,635.0 315.9,635.0 317.1,635.0 318.3,635.0 319.5,635.0 320.7,635.0 321.9,635.0 323.0,635.0 324.2,635.0 325.4,635.0 326.6,635.0 327.8,635.0 328.9,635.0 330.1,635.0 331.3,635.0 332.5,635.0 333.7,635.0 334.9,635.0 336.0,635.0 337.2,635.0 338.4,635.0 339.6,635.0 340.8,635.0 342.0,635.0 343.1,635.0 344.3,635.0 345.5,635.0 346.7,635.0 347.9,635.0 349.1,635.0 350.2,635.0 351.4,635.0 352.6,635.0 353.8,635.0 355.0,635.0 356.2,635.0 357.3,635.0 358.5,635.0 359.7,635.0 360.9,635.0 362.1,635.0 363.2,635.0 364.4,635.0 365.6,635.0 366.8,635.0 368.0,635.0 369.2,635.0 370.3,635.0 371.5,635.0 372.7,635.0 373.9,635.0 375.1,635.0 376.3,635.0 377.4,635.0 378.6,635.0 379.8,635.0 381.0,635.0 382.2,635.0 383.4,635.0 384.5,635.0 385.7,635.0 386.9,635.0 388.1,635.0 389.3,635.0 390.5,635.0 391.6,635.0 392.8,635.0 394.0,635.0 395.2,635.0 396.4,635.0 397.5,635.0 398.7,635.0 399.9,635.0 401.1,635.0 402.3,635.0 403.5,635.0 404.6,635.0 405.8,635.0 407.0,635.0 408.2,635.0 409.4,635.0 410.6,635.0 411.7,635.0 412.9,635.0 414.1,635.0 415.3,635.0 416.5,635.0 417.7,635.0 418.8,635.0 420.0,635.0 421.2,635.0 422.4,635.0 423.6,635.0 424.8,635.0 425.9,635.0 427.1,635.0 428.3,635.0 429.5,635.0 430.7,635.0 431.8,635.0 433.0,635.0 434.2,635.0 435.4,635.0 436.6,635.0 437.8,635.0 438.9,635.0 440.1,635.0 441.3,635.0 442.5,635.0 443.7,635.0 444.9,635.0 446.0,635.0 447.2,635.0 448.4,635.0 449.6,635.0 450.8,635.0 452.0,635.0 453.1,635.0 454.3,635.0 455.5,635.0 456.7,635.0 457.9,635.0 459.1,635.0 460.2,635.0 461.4,635.0 462.6,635.0 463.8,635.0 465.0,635.0 466.1,635.0 467.3,635.0 468.5,635.0 469.7,635.0 470.9,635.0 472.1,635.0 473.2,635.0 474.4,635.0 475.6,635.0 476.8,635.0 478.0,635.0 479.2,635.0 480.3,635.0 481.5,635.0 482.7,635.0 483.9,635.0 485.1,635.0 486.3,635.0 487.4,635.0 488.6,635.0 489.8,635.0 491.0,635.0 492.2,635.0 493.4,635.0 494.5,635.0 495.7,635.0 496.9,635.0 498.1,635.0 499.3,635.0 500.4,635.0 501.6,635.0 502.8,635.0 504.0,635.0 505.2,635.0 506.4,635.0 507.5,635.0 508.7,635.0 509.9,635.0 511.1,635.0 512.3,635.0 513.5,635.0 514.6,635.0 515.8,635.0 517.0,635.0 518.2,635.0 519.4,635.0 520.6,635.0 521.7,635.0 522.9,635.0 524.1,635.0 525.3,635.0 526.5,635.0 527.7,635.0 528.8,635.0 530.0,635.0 531.2,635.0" stroke="#000" stroke-width="2.8" fill="none" stroke-dasharray="1.9 2.1"/>
<polyline points="58.1,635.0 59.3,635.0 60.5,635.0 61.6,635.0 62.8,635.0 64.0,635.0 65.2,635.0 66.4,635.0 67.6,635.0 68.7,635.0 69.9,635.0 71.1,635.0 72.3,635.0 73.5,635.0 74.7,635.0 75.8,635.0 77.0,635.0 78.2,635.0 79.4,635.0 80.6,635.0 81.8,635.0 82.9,635.0 84.1,635.0 85.3,635.0 86.5,635.0 87.7,635.0 88.9,635.0 90.0,635.0 91.2,635.0 92.4,635.0 93.6,635.0 94.8,635.0 95.9,635.0 97.1,635.0 98.3,635.0 99.5,635.0 100.7,635.0 101.9,635.0 103.0,635.0 104.2,635.0 105.4,635.0 106.6,635.0 107.8,635.0 109.0,635.0 110.1,635.0 111.3,635.0 112.5,635.0 113.7,635.0 114.9,635.0 116.1,635.0 117.2,635.0 118.4,635.0 119.6,635.0 120.8,635.0 122.0,635.0 123.2,635.0 124.3,635.0 125.5,635.0 126.7,635.0 127.9,635.0 129.1,635.0 130.2,635.0 131.4,635.0 132.6,635.0 133.8,635.0 135.0,635.0 136.2,635.0 137.3,635.0 138.5,635.0 139.7,635.0 140.9,635.0 142.1,635.0 143.3,635.0 144.4,635.0 145.6,635.0 146.8,635.0 148.0,635.0 149.2,635.0 150.4,635.0 151.5,635.0 152.7,635.0 153.9,635.0 155.1,635.0 156.3,635.0 157.5,635.0 158.6,635.0 159.8,635.0 161.0,635.0 162.2,635.0 163.4,635.0 164.5,635.0 165.7,635.0 166.9,635.0 168.1,634.9 169.3,634.9 170.5,634.9 171.6,634.9 172.8,634.9 174.0,634.9 175.2,634.8 176.4,634.8 177.6,634.8 178.7,634.8 179.9,634.7 181.1,634.7 182.3,634.6 183.5,634.5 184.7,634.5 185.8,634.4 187.0,634.3 188.2,634.2 189.4,634.1 190.6,633.9 191.8,633.8 192.9,633.6 194.1,633.4 195.3,633.2 196.5,633.0 197.7,632.7 198.8,632.4 200.0,632.1 201.2,631.7 202.4,631.3 203.6,630.9 204.8,630.4 205.9,629.9 207.1,629.3 208.3,628.7 209.5,628.0 210.7,627.2 211.9,626.4 213.0,625.6 214.2,624.7 215.4,623.7 216.6,622.6 217.8,621.5 219.0,620.3 220.1,619.1 221.3,617.7 222.5,616.3 223.7,614.9 224.9,613.3 226.1,611.7 227.2,610.1 228.4,608.3 229.6,606.5 230.8,604.7 232.0,602.8 233.1,600.9 234.3,598.9 235.5,596.9 236.7,594.8 237.9,592.8 239.1,590.7 240.2,588.7 241.4,586.6 242.6,584.6 243.8,582.6 245.0,580.7 246.2,578.7 247.3,576.9 248.5,575.1 249.7,573.4 250.9,571.8 252.1,570.3 253.3,568.9 254.4,567.6 255.6,566.4 256.8,565.4 258.0,564.5 259.2,563.8 260.4,563.2 261.5,562.7 262.7,562.4 263.9,562.3 265.1,562.3 266.3,562.5 267.4,562.8 268.6,563.3 269.8,564.0 271.0,564.8 272.2,565.7 273.4,566.8 274.5,568.0 275.7,569.3 276.9,570.7 278.1,572.2 279.3,573.9 280.5,575.6 281.6,577.4 282.8,579.3 284.0,581.2 285.2,583.2 286.4,585.2 287.6,587.2 288.7,589.3 289.9,591.3 291.1,593.4 292.3,595.4 293.5,597.4 294.6,599.4 295.8,601.4 297.0,603.3 298.2,605.2 299.4,607.0 300.6,608.8 301.7,610.5 302.9,612.2 304.1,613.8 305.3,615.3 306.5,616.7 307.7,618.1 308.8,619.4 310.0,620.7 311.2,621.8 312.4,622.9 313.6,624.0 314.8,624.9 315.9,625.8 317.1,626.7 318.3,627.5 319.5,628.2 320.7,628.8 321.9,629.5 323.0,630.0 324.2,630.5 325.4,631.0 326.6,631.4 327.8,631.8 328.9,632.2 330.1,632.5 331.3,632.8 332.5,633.0 333.7,633.3 334.9,633.5 336.0,633.7 337.2,633.8 338.4,634.0 339.6,634.1 340.8,634.2 342.0,634.3 343.1,634.4 344.3,634.5 345.5,634.6 346.7,634.6 347.9,634.7 349.1,634.7 350.2,634.8 351.4,634.8 352.6,634.8 353.8,634.9 355.0,634.9 356.2,634.9 357.3,634.9 358.5,634.9 359.7,634.9 360.9,634.9 362.1,635.0 363.2,635.0 364.4,635.0 365.6,635.0 366.8,635.0 368.0,635.0 369.2,635.0 370.3,635.0 371.5,635.0 372.7,635.0 373.9,635.0 375.1,635.0 376.3,635.0 377.4,635.0 378.6,635.0 379.8,635.0 381.0,635.0 382.2,635.0 383.4,635.0 384.5,635.0 385.7,635.0 386.9,635.0 388.1,635.0 389.3,635.0 390.5,635.0 391.6,635.0 392.8,635.0 394.0,635.0 395.2,635.0 396.4,635.0 397.5,635.0 398.7,635.0 399.9,635.0 401.1,635.0 402.3,635.0 403.5,635.0 404.6,635.0 405.8,635.0 407.0,635.0 408.2,635.0 409.4,635.0 410.6,635.0 411.7,635.0 412.9,635.0 414.1,635.0 415.3,635.0 416.5,635.0 417.7,635.0 418.8,635.0 420.0,635.0 421.2,635.0 422.4,635.0 423.6,635.0 424.8,635.0 425.9,635.0 427.1,635.0 428.3,635.0 429.5,635.0 430.7,635.0 431.8,635.0 433.0,635.0 434.2,635.0 435.4,635.0 436.6,635.0 437.8,635.0 438.9,635.0 440.1,635.0 441.3,635.0 442.5,635.0 443.7,635.0 444.9,635.0 446.0,635.0 447.2,635.0 448.4,635.0 449.6,635.0 450.8,635.0 452.0,635.0 453.1,635.0 454.3,635.0 455.5,635.0 456.7,635.0 457.9,635.0 459.1,635.0 460.2,635.0 461.4,635.0 462.6,635.0 463.8,635.0 465.0,635.0 466.1,635.0 467.3,635.0 468.5,635.0 469.7,635.0 470.9,635.0 472.1,635.0 473.2,635.0 474.4,635.0 475.6,635.0 476.8,635.0 478.0,635.0 479.2,635.0 480.3,635.0 481.5,635.0 482.7,635.0 483.9,635.0 485.1,635.0 486.3,635.0 487.4,635.0 488.6,635.0 489.8,635.0 491.0,635.0 492.2,635.0 493.4,635.0 494.5,635.0 495.7,635.0 496.9,635.0 498.1,635.0 499.3,635.0 500.4,635.0 501.6,635.0 502.8,635.0 504.0,635.0 505.2,635.0 506.4,635.0 507.5,635.0 508.7,635.0 509.9,635.0 511.1,635.0 512.3,635.0 513.5,635.0 514.6,635.0 515.8,635.0 517.0,635.0 518.2,635.0 519.4,635.0 520.6,635.0 521.7,635.0 522.9,635.0 524.1,635.0 525.3,635.0 526.5,635.0 527.7,635.0 528.8,635.0 530.0,635.0 531.2,635.0" stroke="#000" stroke-width="2.8" fill="none" stroke-dasharray="1.9 2.1"/>
<polyline points="58.1,635.0 59.3,635.0 60.5,635.0 61.6,635.0 62.8,635.0 64.0,635.0 65.2,635.0 66.4,635.0 67.6,635.0 68.7,635.0 69.9,635.0 71.1,635.0 72.3,635.0 73.5,635.0 74.7,635.0 75.8,635.0 77.0,635.0 78.2,635.0 79.4,635.0 80.6,635.0 81.8,635.0 82.9,635.0 84.1,635.0 85.3,635.0 86.5,635.0 87.7,635.0 88.9,635.0 90.0,635.0 91.2,635.0 92.4,635.0 93.6,635.0 94.8,635.0 95.9,635.0 97.1,635.0 98.3,635.0 99.5,635.0 100.7,635.0 101.9,635.0 103.0,635.0 104.2,635.0 105.4,635.0 106.6,635.0 107.8,635.0 109.0,635.0 110.1,635.0 111.3,635.0 112.5,635.0 113.7,635.0 114.9,635.0 116.1,635.0 117.2,635.0 118.4,635.0 119.6,635.0 120.8,635.0 122.0,635.0 123.2,635.0 124.3,635.0 125.5,635.0 126.7,635.0 127.9,635.0 129.1,635.0 130.2,635.0 131.4,635.0 132.6,635.0 133.8,635.0 135.0,635.0 136.2,635.0 137.3,635.0 138.5,635.0 139.7,635.0 140.9,635.0 142.1,635.0 143.3,635.0 144.4,635.0 145.6,635.0 146.8,635.0 148.0,635.0 149.2,635.0 150.4,635.0 151.5,635.0 152.7,635.0 153.9,635.0 155.1,635.0 156.3,635.0 157.5,635.0 158.6,635.0 159.8,635.0 161.0,635.0 162.2,635.0 163.4,635.0 164.5,635.0 165.7,635.0 166.9,635.0 168.1,635.0 169.3,635.0 170.5,635.0 171.6,635.0 172.8,635.0 174.0,635.0 175.2,635.0 176.4,635.0 177.6,635.0 178.7,635.0 179.9,635.0 181.1,635.0 182.3,635.0 183.5,635.0 184.7,635.0 185.8,635.0 187.0,635.0 188.2,635.0 189.4,635.0 190.6,635.0 191.8,635.0 192.9,635.0 194.1,635.0 195.3,635.0 196.5,635.0 197.7,635.0 198.8,635.0 200.0,635.0 201.2,635.0 202.4,635.0 203.6,635.0 204.8,635.0 205.9,635.0 207.1,635.0 208.3,635.0 209.5,635.0 210.7,635.0 211.9,635.0 213.0,635.0 214.2,635.0 215.4,635.0 216.6,635.0 217.8,635.0 219.0,635.0 220.1,635.0 221.3,635.0 222.5,635.0 223.7,635.0 224.9,635.0 226.1,635.0 227.2,635.0 228.4,635.0 229.6,635.0 230.8,635.0 232.0,635.0 233.1,635.0 234.3,635.0 235.5,635.0 236.7,635.0 237.9,635.0 239.1,635.0 240.2,635.0 241.4,635.0 242.6,634.9 243.8,634.9 245.0,634.9 246.2,634.9 247.3,634.9 248.5,634.9 249.7,634.9 250.9,634.8 252.1,634.8 253.3,634.8 254.4,634.7 255.6,634.7 256.8,634.7 258.0,634.6 259.2,634.5 260.4,634.5 261.5,634.4 262.7,634.3 263.9,634.2 265.1,634.1 266.3,633.9 267.4,633.8 268.6,633.6 269.8,633.5 271.0,633.3 272.2,633.0 273.4,632.8 274.5,632.5 275.7,632.2 276.9,631.9 278.1,631.5 279.3,631.1 280.5,630.6 281.6,630.1 282.8,629.6 284.0,629.0 285.2,628.4 286.4,627.7 287.6,627.0 288.7,626.2 289.9,625.3 291.1,624.4 292.3,623.4 293.5,622.4 294.6,621.2 295.8,620.0 297.0,618.8 298.2,617.4 299.4,616.0 300.6,614.5 301.7,613.0 302.9,611.3 304.1,609.6 305.3,607.8 306.5,605.9 307.7,604.0 308.8,602.0 310.0,600.0 311.2,597.9 312.4,595.7 313.6,593.5 314.8,591.2 315.9,589.0 317.1,586.6 318.3,584.3 319.5,582.0 320.7,579.6 321.9,577.3 323.0,575.0 324.2,572.7 325.4,570.4 326.6,568.2 327.8,566.1 328.9,564.0 330.1,562.0 331.3,560.0 332.5,558.2 333.7,556.5 334.9,554.9 336.0,553.4 337.2,552.0 338.4,550.8 339.6,549.7 340.8,548.8 342.0,548.0 343.1,547.4 344.3,547.0 345.5,546.7 346.7,546.6 347.9,546.7 349.1,546.9 350.2,547.3 351.4,547.8 352.6,548.6 353.8,549.4 355.0,550.5 356.2,551.7 357.3,553.0 358.5,554.4 359.7,556.0 360.9,557.7 362.1,559.5 363.2,561.4 364.4,563.4 365.6,565.5 366.8,567.6 368.0,569.8 369.2,572.1 370.3,574.3 371.5,576.6 372.7,579.0 373.9,581.3 375.1,583.7 376.3,586.0 377.4,588.3 378.6,590.6 379.8,592.9 381.0,595.1 382.2,597.3 383.4,599.4 384.5,601.5 385.7,603.5 386.9,605.4 388.1,607.3 389.3,609.1 390.5,610.8 391.6,612.5 392.8,614.1 394.0,615.6 395.2,617.0 396.4,618.4 397.5,619.7 398.7,620.9 399.9,622.1 401.1,623.1 402.3,624.1 403.5,625.1 404.6,626.0 405.8,626.8 407.0,627.5 408.2,628.2 409.4,628.9 410.6,629.5 411.7,630.0 412.9,630.5 414.1,631.0 415.3,631.4 416.5,631.8 417.7,632.1 418.8,632.4 420.0,632.7 421.2,633.0 422.4,633.2 423.6,633.4 424.8,633.6 425.9,633.8 427.1,633.9 428.3,634.0 429.5,634.2 430.7,634.3 431.8,634.4 433.0,634.4 434.2,634.5 435.4,634.6 436.6,634.6 437.8,634.7 438.9,634.7 440.1,634.8 441.3,634.8 442.5,634.8 443.7,634.9 444.9,634.9 446.0,634.9 447.2,634.9 448.4,634.9 449.6,634.9 450.8,634.9 452.0,635.0 453.1,635.0 454.3,635.0 455.5,635.0 456.7,635.0 457.9,635.0 459.1,635.0 460.2,635.0 461.4,635.0 462.6,635.0 463.8,635.0 465.0,635.0 466.1,635.0 467.3,635.0 468.5,635.0 469.7,635.0 470.9,635.0 472.1,635.0 473.2,635.0 474.4,635.0 475.6,635.0 476.8,635.0 478.0,635.0 479.2,635.0 480.3,635.0 481.5,635.0 482.7,635.0 483.9,635.0 485.1,635.0 486.3,635.0 487.4,635.0 488.6,635.0 489.8,635.0 491.0,635.0 492.2,635.0 493.4,635.0 494.5,635.0 495.7,635.0 496.9,635.0 498.1,635.0 499.3,635.0 500.4,635.0 501.6,635.0 502.8,635.0 504.0,635.0 505.2,635.0 506.4,635.0 507.5,635.0 508.7,635.0 509.9,635.0 511.1,635.0 512.3,635.0 513.5,635.0 514.6,635.0 515.8,635.0 517.0,635.0 518.2,635.0 519.4,635.0 520.6,635.0 521.7,635.0 522.9,635.0 524.1,635.0 525.3,635.0 526.5,635.0 527.7,635.0 528.8,635.0 530.0,635.0 531.2,635.0" stroke="#000" stroke-width="2.8" fill="none" stroke-dasharray="1.9 2.1"/>
<polyline points="58.1,635.0 59.3,635.0 60.5,635.0 61.6,635.0 62.8,635.0 64.0,635.0 65.2,635.0 66.4,635.0 67.6,635.0 68.7,635.0 69.9,635.0 71.1,635.0 72.3,635.0 73.5,635.0 74.7,635.0 75.8,635.0 77.0,635.0 78.2,635.0 79.4,635.0 80.6,635.0 81.8,635.0 82.9,635.0 84.1,635.0 85.3,635.0 86.5,635.0 87.7,635.0 88.9,635.0 90.0,635.0 91.2,635.0 92.4,635.0 93.6,635.0 94.8,635.0 95.9,635.0 97.1,634.9 98.3,634.9 99.5,634.9 100.7,634.9 101.9,634.9 103.0,634.9 104.2,634.9 105.4,634.8 106.6,634.8 107.8,634.8 109.0,634.7 110.1,634.7 111.3,634.7 112.5,634.6 113.7,634.5 114.9,634.5 116.1,634.4 117.2,634.3 118.4,634.2 119.6,634.1 120.8,634.0 122.0,633.9 123.2,633.7 124.3,633.5 125.5,633.4 126.7,633.2 127.9,632.9 129.1,632.7 130.2,632.4 131.4,632.1 132.6,631.8 133.8,631.4 135.0,631.0 136.2,630.6 137.3,630.1 138.5,629.6 139.7,629.1 140.9,628.5 142.1,627.9 143.3,627.2 144.4,626.5 145.6,625.7 146.8,624.9 148.0,624.0 149.2,623.1 150.4,622.1 151.5,621.1 152.7,620.0 153.9,618.9 155.1,617.7 156.3,616.5 157.5,615.2 158.6,613.9 159.8,612.5 161.0,611.1 162.2,609.6 163.4,608.1 164.5,606.5 165.7,605.0 166.9,603.4 168.1,601.8 169.3,600.1 170.5,598.5 171.6,596.8 172.8,595.2 174.0,593.6 175.2,591.9 176.4,590.3 177.6,588.7 178.7,587.2 179.9,585.7 181.1,584.2 182.3,582.8 183.5,581.5 184.7,580.2 185.8,579.0 187.0,577.8 188.2,576.8 189.4,575.8 190.6,574.9 191.8,574.1 192.9,573.4 194.1,572.8 195.3,572.2 196.5,571.8 197.7,571.5 198.8,571.2 200.0,571.0 201.2,570.9 202.4,570.9 203.6,571.0 204.8,571.1 205.9,571.3 207.1,571.6 208.3,571.9 209.5,572.2 210.7,572.6 211.9,572.9 213.0,573.3 214.2,573.8 215.4,574.2 216.6,574.6 217.8,574.9 219.0,575.3 220.1,575.6 221.3,575.8 222.5,576.1 223.7,576.2 224.9,576.3 226.1,576.3 227.2,576.3 228.4,576.2 229.6,576.0 230.8,575.7 232.0,575.3 233.1,574.9 234.3,574.4 235.5,573.8 236.7,573.2 237.9,572.5 239.1,571.7 240.2,570.9 241.4,570.1 242.6,569.2 243.8,568.3 245.0,567.4 246.2,566.4 247.3,565.5 248.5,564.6 249.7,563.7 250.9,562.9 252.1,562.1 253.3,561.3 254.4,560.6 255.6,560.0 256.8,559.5 258.0,559.1 259.2,558.7 260.4,558.5 261.5,558.4 262.7,558.4 263.9,558.5 265.1,558.7 266.3,559.0 267.4,559.5 268.6,560.0 269.8,560.7 271.0,561.5 272.2,562.4 273.4,563.3 274.5,564.4 275.7,565.5 276.9,566.8 278.1,568.0 279.3,569.3 280.5,570.7 281.6,572.1 282.8,573.5 284.0,574.9 285.2,576.3 286.4,577.6 287.6,578.9 288.7,580.2 289.9,581.5 291.1,582.6 292.3,583.7 293.5,584.7 294.6,585.6 295.8,586.4 297.0,587.0 298.2,587.6 299.4,588.0 300.6,588.3 301.7,588.4 302.9,588.5 304.1,588.3 305.3,588.1 306.5,587.7 307.7,587.1 308.8,586.4 310.0,585.6 311.2,584.7 312.4,583.6 313.6,582.5 314.8,581.2 315.9,579.8 317.1,578.3 318.3,576.8 319.5,575.2 320.7,573.5 321.9,571.8 323.0,570.0 324.2,568.2 325.4,566.4 326.6,564.6 327.8,562.9 328.9,561.1 330.1,559.4 331.3,557.8 332.5,556.2 333.7,554.7 334.9,553.3 336.0,552.0 337.2,550.8 338.4,549.8 339.6,548.8 340.8,548.0 342.0,547.4 343.1,546.8 344.3,546.5 345.5,546.3 346.7,546.2 347.9,546.3 349.1,546.6 350.2,547.0 351.4,547.6 352.6,548.4 353.8,549.3 355.0,550.4 356.2,551.6 357.3,552.9 358.5,554.4 359.7,555.9 360.9,557.7 362.1,559.5 363.2,561.4 364.4,563.4 365.6,565.4 366.8,567.6 368.0,569.8 369.2,572.0 370.3,574.3 371.5,576.6 372.7,579.0 373.9,581.3 375.1,583.7 376.3,586.0 377.4,588.3 378.6,590.6 379.8,592.9 381.0,595.1 382.2,597.3 383.4,599.4 384.5,601.5 385.7,603.5 386.9,605.4 388.1,607.3 389.3,609.1 390.5,610.8 391.6,612.5 392.8,614.1 394.0,615.6 395.2,617.0 396.4,618.4 397.5,619.7 398.7,620.9 399.9,622.1 401.1,623.1 402.3,624.1 403.5,625.1 404.6,626.0 405.8,626.8 407.0,627.5 408.2,628.2 409.4,628.9 410.6,629.5 411.7,630.0 412.9,630.5 414.1,631.0 415.3,631.4 416.5,631.8 417.7,632.1 418.8,632.4 420.0,632.7 421.2,633.0 422.4,633.2 423.6,633.4 424.8,633.6 425.9,633.8 427.1,633.9 428.3,634.0 429.5,634.2 430.7,634.3 431.8,634.4 433.0,634.4 434.2,634.5 435.4,634.6 436.6,634.6 437.8,634.7 438.9,634.7 440.1,634.8 441.3,634.8 442.5,634.8 443.7,634.9 444.9,634.9 446.0,634.9 447.2,634.9 448.4,634.9 449.6,634.9 450.8,634.9 452.0,635.0 453.1,635.0 454.3,635.0 455.5,635.0 456.7,635.0 457.9,635.0 459.1,635.0 460.2,635.0 461.4,635.0 462.6,635.0 463.8,635.0 465.0,635.0 466.1,635.0 467.3,635.0 468.5,635.0 469.7,635.0 470.9,635.0 472.1,635.0 473.2,635.0 474.4,635.0 475.6,635.0 476.8,635.0 478.0,635.0 479.2,635.0 480.3,635.0 481.5,635.0 482.7,635.0 483.9,635.0 485.1,635.0 486.3,635.0 487.4,635.0 488.6,635.0 489.8,635.0 491.0,635.0 492.2,635.0 493.4,635.0 494.5,635.0 495.7,635.0 496.9,635.0 498.1,635.0 499.3,635.0 500.4,635.0 501.6,635.0 502.8,635.0 504.0,635.0 505.2,635.0 506.4,635.0 507.5,635.0 508.7,635.0 509.9,635.0 511.1,635.0 512.3,635.0 513.5,635.0 514.6,635.0 515.8,635.0 517.0,635.0 518.2,635.0 519.4,635.0 520.6,635.0 521.7,635.0 522.9,635.0 524.1,635.0 525.3,635.0 526.5,635.0 527.7,635.0 528.8,635.0 530.0,635.0 531.2,635.0" stroke="#000" stroke-width="2.7" fill="none" stroke-dasharray="8.5 5.5"/>
<polyline points="58.1,577.1 62.8,644.0 67.6,705.0 72.3,700.0 77.0,602.2 81.8,638.1 86.5,607.6 91.2,640.8 95.9,676.8 100.7,641.7 105.4,647.1 110.1,647.5 114.9,668.2 119.6,657.9 124.3,631.9 129.1,581.6 133.8,608.5 138.5,627.5 143.3,596.8 148.0,631.0 152.7,596.8 157.5,655.2 162.2,615.0 166.9,630.0 171.6,587.6 176.4,592.9 181.1,557.0 185.8,602.4 190.6,581.3 195.3,547.5 200.0,570.7 204.8,589.7 209.5,542.2 214.2,568.6 219.0,607.6 223.7,566.5 228.4,558.0 233.1,568.6 237.9,598.2 242.6,545.4 247.3,582.3 252.1,582.3 256.8,567.5 261.5,560.1 266.3,550.7 271.0,543.2 275.7,553.9 280.5,544.4 285.2,584.5 289.9,620.4 294.6,580.3 299.4,588.7 304.1,575.0 308.8,584.5 313.6,575.0 318.3,586.0 323.0,550.7 327.8,568.7 332.5,561.3 337.2,560.2 342.0,542.3 346.7,533.8 351.4,524.3 356.2,562.3 360.9,565.5 365.6,576.5 370.3,562.0 375.1,603.0 379.8,609.5 384.5,603.7 389.3,596.7 394.0,606.0 398.7,603.7 403.5,568.8 408.2,617.7 412.9,672.3 417.7,610.7 422.4,659.5 427.1,654.9 431.8,671.2 436.6,608.4 441.3,572.3 446.0,614.2 450.8,620.0 455.5,592.1 460.2,625.8 465.0,624.7 469.7,640.0 474.4,647.0 479.2,643.3 483.9,620.6 488.6,610.2 493.4,620.6 498.1,641.2 502.8,636.1 507.5,646.4 512.3,648.5 517.0,661.9 521.7,622.6 526.5,619.5 531.2,591.7" stroke="#c4161e" stroke-width="2.9" fill="none" stroke-linejoin="miter" stroke-miterlimit="3"/>
<polyline points="58.1,634.9 60.4,635.6 62.6,635.5 64.9,635.0 67.2,634.7 69.4,635.2 71.7,635.4 74.0,634.4 76.2,635.0 78.5,635.4 80.8,634.4 83.0,633.9 85.3,633.8 87.6,634.7 89.9,634.6 92.1,635.1 94.4,634.8 96.7,633.6 98.9,633.4 101.2,633.5 103.5,633.3 105.7,634.3 108.0,634.5 110.2,634.4 112.5,633.0 114.8,634.0 117.0,632.8 119.2,632.8 121.5,633.3 123.8,631.8 126.0,631.7 128.4,632.8 130.8,631.3 133.1,631.0 135.5,631.1 137.9,630.9 140.2,629.1 142.6,629.4 145.0,629.2 147.5,629.0 150.0,628.1 152.5,628.6 155.0,629.0 157.5,627.6 160.0,627.6 162.8,626.2 165.5,626.0 168.3,626.3 170.8,624.0 173.3,624.3 176.1,622.7 178.9,619.4 181.7,619.4 184.5,615.6 187.2,613.7 190.0,611.0 192.8,606.8 195.5,604.2 198.3,600.8 201.1,597.6 203.9,593.0 206.7,590.5 208.9,588.1 211.1,584.7 213.3,581.6 215.5,580.7 217.8,581.5 220.0,581.2 222.5,582.6 225.0,583.1 227.5,583.5 230.0,583.4 232.5,584.6 235.0,584.9 237.5,584.4 240.0,584.5 242.5,582.8 245.0,580.5 247.5,579.7 250.0,575.6 252.5,573.5 255.0,573.6 257.5,572.7 260.0,573.4 262.5,574.5 265.0,574.9 268.0,577.4 271.0,579.9 273.3,581.0 275.6,583.7 277.9,585.2 280.2,586.2 282.5,588.0 285.0,589.2 287.5,591.0 290.0,593.3 292.5,596.2 295.0,596.6 297.5,599.3 300.0,600.5 302.5,603.3 305.0,604.2 307.5,606.0 310.0,606.8 312.5,607.9 315.0,609.1 317.5,609.0 320.0,610.7 322.5,610.0 325.0,611.1 327.5,611.5 330.0,612.3 332.5,614.4 335.0,615.0 337.5,614.6 340.0,615.4 342.5,616.6 345.0,618.0 347.5,618.9 350.0,619.5 352.5,620.0 355.0,619.8 357.5,621.1 360.0,621.4 362.5,622.8 365.0,623.7 367.5,623.7 370.0,624.5 372.5,626.2 375.0,625.3 377.5,627.4 380.0,628.2 382.5,628.9 385.0,628.2 387.5,628.9 390.0,629.4 392.5,629.9 395.0,631.0 397.5,630.6 400.0,630.1 402.5,631.5 405.0,631.0 407.5,631.5 410.0,632.3 412.5,631.3 415.0,633.3 417.5,633.6 420.0,633.8 422.2,634.0 424.4,634.0 426.7,633.6 428.9,634.4 431.1,633.5 433.3,634.6 435.6,635.0 437.8,634.8 440.0,635.1 442.2,635.9 444.4,635.8 446.7,634.3 448.9,635.6 451.1,635.2 453.3,634.1 455.6,634.7 457.8,634.5 460.0,634.2 462.2,635.1 464.5,635.9 466.7,634.6 468.9,635.7 471.1,635.4 473.4,634.3 475.6,635.7 477.8,635.2 480.0,635.9 482.3,635.4 484.5,635.5 486.7,634.7 488.9,635.6 491.2,635.9 493.4,635.7 495.6,634.9 497.8,635.5 500.1,635.0 502.3,634.2 504.5,634.1 506.7,634.2 509.0,634.4 511.2,634.3 513.4,635.0 515.6,635.4 517.9,635.1 520.1,634.8 522.3,635.3 524.5,634.6 526.8,634.9 529.0,635.5 531.2,635.0" stroke="#000" stroke-width="2.9" fill="none" stroke-linejoin="round"/>
</g>
<line x1="87.7" y1="239.2" x2="87.7" y2="236.7" stroke="#000" stroke-width="2"/>
<line x1="87.7" y1="2.6" x2="87.7" y2="5.1" stroke="#000" stroke-width="2"/>
<line x1="117.2" y1="239.2" x2="117.2" y2="234.7" stroke="#000" stroke-width="2"/>
<line x1="117.2" y1="2.6" x2="117.2" y2="7.1" stroke="#000" stroke-width="2"/>
<line x1="146.8" y1="239.2" x2="146.8" y2="236.7" stroke="#000" stroke-width="2"/>
<line x1="146.8" y1="2.6" x2="146.8" y2="5.1" stroke="#000" stroke-width="2"/>
<line x1="176.4" y1="239.2" x2="176.4" y2="234.7" stroke="#000" stroke-width="2"/>
<line x1="176.4" y1="2.6" x2="176.4" y2="7.1" stroke="#000" stroke-width="2"/>
<line x1="205.9" y1="239.2" x2="205.9" y2="236.7" stroke="#000" stroke-width="2"/>
<line x1="205.9" y1="2.6" x2="205.9" y2="5.1" stroke="#000" stroke-width="2"/>
<line x1="235.5" y1="239.2" x2="235.5" y2="234.7" stroke="#000" stroke-width="2"/>
<line x1="235.5" y1="2.6" x2="235.5" y2="7.1" stroke="#000" stroke-width="2"/>
<line x1="265.1" y1="239.2" x2="265.1" y2="236.7" stroke="#000" stroke-width="2"/>
<line x1="265.1" y1="2.6" x2="265.1" y2="5.1" stroke="#000" stroke-width="2"/>
<line x1="294.6" y1="239.2" x2="294.6" y2="234.7" stroke="#000" stroke-width="2"/>
<line x1="294.6" y1="2.6" x2="294.6" y2="7.1" stroke="#000" stroke-width="2"/>
<line x1="324.2" y1="239.2" x2="324.2" y2="236.7" stroke="#000" stroke-width="2"/>
<line x1="324.2" y1="2.6" x2="324.2" y2="5.1" stroke="#000" stroke-width="2"/>
<line x1="353.8" y1="239.2" x2="353.8" y2="234.7" stroke="#000" stroke-width="2"/>
<line x1="353.8" y1="2.6" x2="353.8" y2="7.1" stroke="#000" stroke-width="2"/>
<line x1="383.4" y1="239.2" x2="383.4" y2="236.7" stroke="#000" stroke-width="2"/>
<line x1="383.4" y1="2.6" x2="383.4" y2="5.1" stroke="#000" stroke-width="2"/>
<line x1="412.9" y1="239.2" x2="412.9" y2="234.7" stroke="#000" stroke-width="2"/>
<line x1="412.9" y1="2.6" x2="412.9" y2="7.1" stroke="#000" stroke-width="2"/>
<line x1="442.5" y1="239.2" x2="442.5" y2="236.7" stroke="#000" stroke-width="2"/>
<line x1="442.5" y1="2.6" x2="442.5" y2="5.1" stroke="#000" stroke-width="2"/>
<line x1="472.1" y1="239.2" x2="472.1" y2="234.7" stroke="#000" stroke-width="2"/>
<line x1="472.1" y1="2.6" x2="472.1" y2="7.1" stroke="#000" stroke-width="2"/>
<line x1="501.6" y1="239.2" x2="501.6" y2="236.7" stroke="#000" stroke-width="2"/>
<line x1="501.6" y1="2.6" x2="501.6" y2="5.1" stroke="#000" stroke-width="2"/>
<line x1="58.1" y1="191.9" x2="67.6" y2="191.9" stroke="#000" stroke-width="2"/>
<line x1="58.1" y1="116.0" x2="67.6" y2="116.0" stroke="#000" stroke-width="2"/>
<line x1="58.1" y1="40.2" x2="67.6" y2="40.2" stroke="#000" stroke-width="2"/>
<line x1="531.2" y1="191.9" x2="521.7" y2="191.9" stroke="#000" stroke-width="2"/>
<line x1="531.2" y1="135.1" x2="521.7" y2="135.1" stroke="#000" stroke-width="2"/>
<line x1="531.2" y1="78.3" x2="521.7" y2="78.3" stroke="#000" stroke-width="2"/>
<line x1="531.2" y1="21.6" x2="521.7" y2="21.6" stroke="#000" stroke-width="2"/>
<line x1="87.7" y1="471.5" x2="87.7" y2="469.0" stroke="#000" stroke-width="2"/>
<line x1="87.7" y1="261.5" x2="87.7" y2="264.0" stroke="#000" stroke-width="2"/>
<line x1="117.2" y1="471.5" x2="117.2" y2="467.0" stroke="#000" stroke-width="2"/>
<line x1="117.2" y1="261.5" x2="117.2" y2="266.0" stroke="#000" stroke-width="2"/>
<line x1="146.8" y1="471.5" x2="146.8" y2="469.0" stroke="#000" stroke-width="2"/>
<line x1="146.8" y1="261.5" x2="146.8" y2="264.0" stroke="#000" stroke-width="2"/>
<line x1="176.4" y1="471.5" x2="176.4" y2="467.0" stroke="#000" stroke-width="2"/>
<line x1="176.4" y1="261.5" x2="176.4" y2="266.0" stroke="#000" stroke-width="2"/>
<line x1="205.9" y1="471.5" x2="205.9" y2="469.0" stroke="#000" stroke-width="2"/>
<line x1="205.9" y1="261.5" x2="205.9" y2="264.0" stroke="#000" stroke-width="2"/>
<line x1="235.5" y1="471.5" x2="235.5" y2="467.0" stroke="#000" stroke-width="2"/>
<line x1="235.5" y1="261.5" x2="235.5" y2="266.0" stroke="#000" stroke-width="2"/>
<line x1="265.1" y1="471.5" x2="265.1" y2="469.0" stroke="#000" stroke-width="2"/>
<line x1="265.1" y1="261.5" x2="265.1" y2="264.0" stroke="#000" stroke-width="2"/>
<line x1="294.6" y1="471.5" x2="294.6" y2="467.0" stroke="#000" stroke-width="2"/>
<line x1="294.6" y1="261.5" x2="294.6" y2="266.0" stroke="#000" stroke-width="2"/>
<line x1="324.2" y1="471.5" x2="324.2" y2="469.0" stroke="#000" stroke-width="2"/>
<line x1="324.2" y1="261.5" x2="324.2" y2="264.0" stroke="#000" stroke-width="2"/>
<line x1="353.8" y1="471.5" x2="353.8" y2="467.0" stroke="#000" stroke-width="2"/>
<line x1="353.8" y1="261.5" x2="353.8" y2="266.0" stroke="#000" stroke-width="2"/>
<line x1="383.4" y1="471.5" x2="383.4" y2="469.0" stroke="#000" stroke-width="2"/>
<line x1="383.4" y1="261.5" x2="383.4" y2="264.0" stroke="#000" stroke-width="2"/>
<line x1="412.9" y1="471.5" x2="412.9" y2="467.0" stroke="#000" stroke-width="2"/>
<line x1="412.9" y1="261.5" x2="412.9" y2="266.0" stroke="#000" stroke-width="2"/>
<line x1="442.5" y1="471.5" x2="442.5" y2="469.0" stroke="#000" stroke-width="2"/>
<line x1="442.5" y1="261.5" x2="442.5" y2="264.0" stroke="#000" stroke-width="2"/>
<line x1="472.1" y1="471.5" x2="472.1" y2="467.0" stroke="#000" stroke-width="2"/>
<line x1="472.1" y1="261.5" x2="472.1" y2="266.0" stroke="#000" stroke-width="2"/>
<line x1="501.6" y1="471.5" x2="501.6" y2="469.0" stroke="#000" stroke-width="2"/>
<line x1="501.6" y1="261.5" x2="501.6" y2="264.0" stroke="#000" stroke-width="2"/>
<line x1="58.1" y1="458.9" x2="67.6" y2="458.9" stroke="#000" stroke-width="2"/>
<line x1="58.1" y1="409.6" x2="67.6" y2="409.6" stroke="#000" stroke-width="2"/>
<line x1="58.1" y1="360.3" x2="67.6" y2="360.3" stroke="#000" stroke-width="2"/>
<line x1="58.1" y1="311.0" x2="67.6" y2="311.0" stroke="#000" stroke-width="2"/>
<line x1="531.2" y1="458.9" x2="521.7" y2="458.9" stroke="#000" stroke-width="2"/>
<line x1="531.2" y1="409.6" x2="521.7" y2="409.6" stroke="#000" stroke-width="2"/>
<line x1="531.2" y1="360.3" x2="521.7" y2="360.3" stroke="#000" stroke-width="2"/>
<line x1="531.2" y1="311.0" x2="521.7" y2="311.0" stroke="#000" stroke-width="2"/>
<line x1="87.7" y1="695.4" x2="87.7" y2="692.9" stroke="#000" stroke-width="2"/>
<line x1="87.7" y1="489.4" x2="87.7" y2="491.9" stroke="#000" stroke-width="2"/>
<line x1="117.2" y1="695.4" x2="117.2" y2="690.9" stroke="#000" stroke-width="2"/>
<line x1="117.2" y1="489.4" x2="117.2" y2="493.9" stroke="#000" stroke-width="2"/>
<line x1="146.8" y1="695.4" x2="146.8" y2="692.9" stroke="#000" stroke-width="2"/>
<line x1="146.8" y1="489.4" x2="146.8" y2="491.9" stroke="#000" stroke-width="2"/>
<line x1="176.4" y1="695.4" x2="176.4" y2="690.9" stroke="#000" stroke-width="2"/>
<line x1="176.4" y1="489.4" x2="176.4" y2="493.9" stroke="#000" stroke-width="2"/>
<line x1="205.9" y1="695.4" x2="205.9" y2="692.9" stroke="#000" stroke-width="2"/>
<line x1="205.9" y1="489.4" x2="205.9" y2="491.9" stroke="#000" stroke-width="2"/>
<line x1="235.5" y1="695.4" x2="235.5" y2="690.9" stroke="#000" stroke-width="2"/>
<line x1="235.5" y1="489.4" x2="235.5" y2="493.9" stroke="#000" stroke-width="2"/>
<line x1="265.1" y1="695.4" x2="265.1" y2="692.9" stroke="#000" stroke-width="2"/>
<line x1="265.1" y1="489.4" x2="265.1" y2="491.9" stroke="#000" stroke-width="2"/>
<line x1="294.6" y1="695.4" x2="294.6" y2="690.9" stroke="#000" stroke-width="2"/>
<line x1="294.6" y1="489.4" x2="294.6" y2="493.9" stroke="#000" stroke-width="2"/>
<line x1="324.2" y1="695.4" x2="324.2" y2="692.9" stroke="#000" stroke-width="2"/>
<line x1="324.2" y1="489.4" x2="324.2" y2="491.9" stroke="#000" stroke-width="2"/>
<line x1="353.8" y1="695.4" x2="353.8" y2="690.9" stroke="#000" stroke-width="2"/>
<line x1="353.8" y1="489.4" x2="353.8" y2="493.9" stroke="#000" stroke-width="2"/>
<line x1="383.4" y1="695.4" x2="383.4" y2="692.9" stroke="#000" stroke-width="2"/>
<line x1="383.4" y1="489.4" x2="383.4" y2="491.9" stroke="#000" stroke-width="2"/>
<line x1="412.9" y1="695.4" x2="412.9" y2="690.9" stroke="#000" stroke-width="2"/>
<line x1="412.9" y1="489.4" x2="412.9" y2="493.9" stroke="#000" stroke-width="2"/>
<line x1="442.5" y1="695.4" x2="442.5" y2="692.9" stroke="#000" stroke-width="2"/>
<line x1="442.5" y1="489.4" x2="442.5" y2="491.9" stroke="#000" stroke-width="2"/>
<line x1="472.1" y1="695.4" x2="472.1" y2="690.9" stroke="#000" stroke-width="2"/>
<line x1="472.1" y1="489.4" x2="472.1" y2="493.9" stroke="#000" stroke-width="2"/>
<line x1="501.6" y1="695.4" x2="501.6" y2="692.9" stroke="#000" stroke-width="2"/>
<line x1="501.6" y1="489.4" x2="501.6" y2="491.9" stroke="#000" stroke-width="2"/>
<line x1="58.1" y1="683.4" x2="67.6" y2="683.4" stroke="#000" stroke-width="2"/>
<line x1="58.1" y1="635.0" x2="67.6" y2="635.0" stroke="#000" stroke-width="2"/>
<line x1="58.1" y1="586.6" x2="67.6" y2="586.6" stroke="#000" stroke-width="2"/>
<line x1="58.1" y1="538.2" x2="67.6" y2="538.2" stroke="#000" stroke-width="2"/>
<line x1="531.2" y1="693.2" x2="521.7" y2="693.2" stroke="#000" stroke-width="2"/>
<line x1="531.2" y1="635.0" x2="521.7" y2="635.0" stroke="#000" stroke-width="2"/>
<line x1="531.2" y1="576.8" x2="521.7" y2="576.8" stroke="#000" stroke-width="2"/>
<line x1="531.2" y1="518.7" x2="521.7" y2="518.7" stroke="#000" stroke-width="2"/>
<rect x="291.9" y="2.6" width="3.8" height="18.4" fill="#7ae05a"/>
<rect x="291.9" y="2.6" width="1.1" height="18.4" fill="#45a835"/>
<rect x="294.7" y="2.6" width="1" height="18.4" fill="#58b848"/>
<rect x="291.9" y="220.5" width="3.8" height="18.7" fill="#7ae05a"/>
<rect x="291.9" y="220.5" width="1.1" height="18.7" fill="#45a835"/>
<rect x="294.7" y="220.5" width="1" height="18.7" fill="#58b848"/>
<rect x="309.0" y="2.6" width="3.8" height="18.4" fill="#7ae05a"/>
<rect x="309.0" y="2.6" width="1.1" height="18.4" fill="#45a835"/>
<rect x="311.8" y="2.6" width="1" height="18.4" fill="#58b848"/>
<rect x="309.0" y="220.5" width="3.8" height="18.7" fill="#7ae05a"/>
<rect x="309.0" y="220.5" width="1.1" height="18.7" fill="#45a835"/>
<rect x="311.8" y="220.5" width="1" height="18.7" fill="#58b848"/>
<rect x="401.7" y="2.6" width="3.8" height="18.4" fill="#7ae05a"/>
<rect x="401.7" y="2.6" width="1.1" height="18.4" fill="#45a835"/>
<rect x="404.5" y="2.6" width="1" height="18.4" fill="#58b848"/>
<rect x="401.7" y="220.5" width="3.8" height="18.7" fill="#7ae05a"/>
<rect x="401.7" y="220.5" width="1.1" height="18.7" fill="#45a835"/>
<rect x="404.5" y="220.5" width="1" height="18.7" fill="#58b848"/>
<rect x="214.1" y="261.5" width="3.8" height="14.0" fill="#7ae05a"/>
<rect x="214.1" y="261.5" width="1.1" height="14.0" fill="#45a835"/>
<rect x="216.9" y="261.5" width="1" height="14.0" fill="#58b848"/>
<rect x="214.1" y="457.5" width="3.8" height="14.0" fill="#7ae05a"/>
<rect x="214.1" y="457.5" width="1.1" height="14.0" fill="#45a835"/>
<rect x="216.9" y="457.5" width="1" height="14.0" fill="#58b848"/>
<rect x="368.4" y="261.5" width="3.8" height="14.0" fill="#7ae05a"/>
<rect x="368.4" y="261.5" width="1.1" height="14.0" fill="#45a835"/>
<rect x="371.2" y="261.5" width="1" height="14.0" fill="#58b848"/>
<rect x="368.4" y="457.5" width="3.8" height="14.0" fill="#7ae05a"/>
<rect x="368.4" y="457.5" width="1.1" height="14.0" fill="#45a835"/>
<rect x="371.2" y="457.5" width="1" height="14.0" fill="#58b848"/>
<rect x="450.3" y="261.5" width="3.8" height="14.0" fill="#7ae05a"/>
<rect x="450.3" y="261.5" width="1.1" height="14.0" fill="#45a835"/>
<rect x="453.1" y="261.5" width="1" height="14.0" fill="#58b848"/>
<rect x="450.3" y="457.5" width="3.8" height="14.0" fill="#7ae05a"/>
<rect x="450.3" y="457.5" width="1.1" height="14.0" fill="#45a835"/>
<rect x="453.1" y="457.5" width="1" height="14.0" fill="#58b848"/>
<rect x="227.3" y="489.4" width="3.8" height="14.2" fill="#7ae05a"/>
<rect x="227.3" y="489.4" width="1.1" height="14.2" fill="#45a835"/>
<rect x="230.1" y="489.4" width="1" height="14.2" fill="#58b848"/>
<rect x="227.3" y="681.2" width="3.8" height="14.2" fill="#7ae05a"/>
<rect x="227.3" y="681.2" width="1.1" height="14.2" fill="#45a835"/>
<rect x="230.1" y="681.2" width="1" height="14.2" fill="#58b848"/>
<rect x="296.6" y="489.4" width="3.8" height="14.2" fill="#7ae05a"/>
<rect x="296.6" y="489.4" width="1.1" height="14.2" fill="#45a835"/>
<rect x="299.4" y="489.4" width="1" height="14.2" fill="#58b848"/>
<rect x="296.6" y="681.2" width="3.8" height="14.2" fill="#7ae05a"/>
<rect x="296.6" y="681.2" width="1.1" height="14.2" fill="#45a835"/>
<rect x="299.4" y="681.2" width="1" height="14.2" fill="#58b848"/>
<line x1="211.7" y1="13.8" x2="277.9" y2="13.8" stroke="#b414e1" stroke-width="3.6"/>
<line x1="277.9" y1="25.2" x2="330" y2="25.2" stroke="#b414e1" stroke-width="3.6"/>
<line x1="116.7" y1="269" x2="200" y2="269" stroke="#b414e1" stroke-width="3.6"/>
<line x1="212" y1="276.5" x2="271" y2="276.5" stroke="#b414e1" stroke-width="3.6"/>
<line x1="128.8" y1="498.3" x2="235.7" y2="498.3" stroke="#b414e1" stroke-width="3.6"/>
<line x1="247" y1="506.9" x2="354.2" y2="506.9" stroke="#b414e1" stroke-width="3.6"/>
<line x1="306.3" y1="515.3" x2="436.7" y2="515.3" stroke="#b414e1" stroke-width="3.6"/>
<rect x="58.1" y="2.6" width="473.1" height="236.6" fill="none" stroke="#000" stroke-width="2.2"/>
<rect x="58.1" y="261.5" width="473.1" height="210.0" fill="none" stroke="#000" stroke-width="2.2"/>
<rect x="58.1" y="489.4" width="473.1" height="206.0" fill="none" stroke="#000" stroke-width="2.2"/>
<text x="51.8" y="199.7" font-size="22" text-anchor="end">0</text>
<text x="51.8" y="123.8" font-size="22" text-anchor="end">2</text>
<text x="51.8" y="48.0" font-size="22" text-anchor="end">4</text>
<text x="536.5" y="199.7" font-size="22" text-anchor="start">0</text>
<text x="536.5" y="142.9" font-size="22" text-anchor="start">3</text>
<text x="536.5" y="86.1" font-size="22" text-anchor="start">6</text>
<text x="536.5" y="29.4" font-size="22" text-anchor="start">9</text>
<text x="51.8" y="466.7" font-size="22" text-anchor="end">-1</text>
<text x="51.8" y="417.4" font-size="22" text-anchor="end">0</text>
<text x="51.8" y="368.1" font-size="22" text-anchor="end">1</text>
<text x="51.8" y="318.8" font-size="22" text-anchor="end">2</text>
<text x="51.8" y="277.1" font-size="22" text-anchor="end">3</text>
<text x="536.5" y="466.7" font-size="22" text-anchor="start">-1</text>
<text x="536.5" y="417.4" font-size="22" text-anchor="start">0</text>
<text x="536.5" y="368.1" font-size="22" text-anchor="start">1</text>
<text x="536.5" y="318.8" font-size="22" text-anchor="start">2</text>
<text x="536.5" y="277.1" font-size="22" text-anchor="start">3</text>
<text x="51.8" y="691.2" font-size="22" text-anchor="end">-1</text>
<text x="51.8" y="642.8" font-size="22" text-anchor="end">0</text>
<text x="51.8" y="594.4" font-size="22" text-anchor="end">1</text>
<text x="51.8" y="546.0" font-size="22" text-anchor="end">2</text>
<text x="51.8" y="505.0" font-size="22" text-anchor="end">3</text>
<text x="536.5" y="695.4" font-size="22" text-anchor="start">-2</text>
<text x="536.5" y="642.8" font-size="22" text-anchor="start">0</text>
<text x="536.5" y="584.6" font-size="22" text-anchor="start">2</text>
<text x="536.5" y="526.5" font-size="22" text-anchor="start">4</text>
<text x="117.5" y="723.3" font-size="22" text-anchor="middle">125</text>
<text x="176.7" y="723.3" font-size="22" text-anchor="middle">150</text>
<text x="235.8" y="723.3" font-size="22" text-anchor="middle">175</text>
<text x="294.9" y="723.3" font-size="22" text-anchor="middle">200</text>
<text x="354.1" y="723.3" font-size="22" text-anchor="middle">225</text>
<text x="413.2" y="723.3" font-size="22" text-anchor="middle">250</text>
<text x="472.4" y="723.3" font-size="22" text-anchor="middle">275</text>
<text x="69" y="36.5" font-size="17" textLength="97" lengthAdjust="spacingAndGlyphs">(a: DI 1388)</text>
<text x="70" y="295.8" font-size="17" textLength="113.5" lengthAdjust="spacingAndGlyphs">(b: DGIK 975)</text>
<text x="70" y="519.8" font-size="17" textLength="140.5" lengthAdjust="spacingAndGlyphs">(c: PKS 0312-77)</text>
<text x="237" y="747.2" font-size="21" letter-spacing="0.5">v<tspan font-size="13" dy="5.5">LSR</tspan><tspan dy="-5.5"> [km s</tspan><tspan font-size="12.5" dy="-10.5">-1</tspan><tspan dy="10.5">]</tspan></text>
<text transform="translate(21.5,437.5) rotate(-90)" font-size="22" letter-spacing="0.25">I<tspan font-size="14" dy="5.5">Hα</tspan><tspan dy="-5.5"> [mR/(km s</tspan><tspan font-size="12.5" dy="-10.8">-1</tspan><tspan dy="10.8">)]</tspan></text>
<text transform="translate(591.4,472) rotate(-90)" font-size="22" letter-spacing="0.3">N<tspan font-size="14" dy="5.5">HI</tspan><tspan dy="-5.5"> [10</tspan><tspan font-size="12.5" dy="-10.8">18</tspan><tspan dy="10.8"> cm</tspan><tspan font-size="12.5" dy="-10.8">-2</tspan><tspan dy="10.8">/(km s</tspan><tspan font-size="12.5" dy="-10.8">-1</tspan><tspan dy="10.8">)]</tspan></text>
</svg></body></html>
